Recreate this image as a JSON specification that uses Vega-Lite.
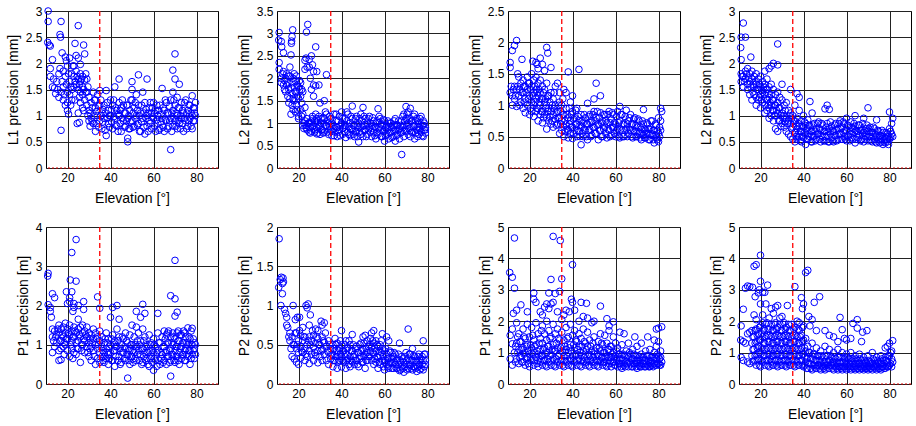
{
"$schema": "https://vega.github.io/schema/vega-lite/v6.json",
"padding": {"left": 5, "top": 4, "right": 0, "bottom": 0},
"columns": 4,
"bounds": "flush",
"spacing": {"row": 59, "column": 59},
"config": {
 "view": {"stroke": "#000", "strokeWidth": 1},
 "axis": {"domain": false, "ticks": false, "grid": true, "gridColor": "#222", "gridWidth": 1, "gridOpacity": 1, "labelOverlap": false, "labelFont": "Liberation Sans", "labelFontSize": 12, "labelColor": "#000", "titleFont": "Liberation Sans", "titleFontSize": 14, "titleFontWeight": "normal", "titleColor": "#000", "labelPadding": 4},
 "axisX": {"titlePadding": 8},
 "axisY": {"titlePadding": 5}
},
"concat": [
 {"width": 172, "height": 157, "layer": [
  {"data": {"name": "a"}, "mark": {"type": "point", "filled": false, "color": "#0000ff", "opacity": 1, "size": 44, "strokeWidth": 1},
   "encoding": {"x": {"field": "e", "type": "quantitative", "scale": {"domain": [10, 90], "nice": false, "zero": false}, "axis": {"values": [20, 40, 60, 80], "title": "Elevation [°]"}},
                "y": {"field": "v", "type": "quantitative", "scale": {"domain": [0, 3], "nice": false}, "axis": {"values": [0, 0.5, 1, 1.5, 2, 2.5, 3], "format": "~g", "title": "L1 precision [mm]"}}}},
  {"data": {"values": [{}]}, "mark": {"type": "rule", "color": "#ff0000", "strokeWidth": 1.3, "strokeDash": [5, 3]}, "encoding": {"x": {"datum": 35, "type": "quantitative", "axis": {"values": [20, 40, 60, 80], "title": "Elevation [°]"}}}},
  {"data": {"values": [{}]}, "mark": {"type": "rule", "color": "#dd0000", "strokeWidth": 1, "strokeDash": [2, 2]}, "encoding": {"y": {"datum": 0, "type": "quantitative", "axis": {"values": [0, 0.5, 1, 1.5, 2, 2.5, 3], "format": "~g", "title": "L1 precision [mm]"}}}}
 ]},
 {"width": 172, "height": 157, "layer": [
  {"data": {"name": "b"}, "mark": {"type": "point", "filled": false, "color": "#0000ff", "opacity": 1, "size": 44, "strokeWidth": 1},
   "encoding": {"x": {"field": "e", "type": "quantitative", "scale": {"domain": [10, 90], "nice": false, "zero": false}, "axis": {"values": [20, 40, 60, 80], "title": "Elevation [°]"}},
                "y": {"field": "v", "type": "quantitative", "scale": {"domain": [0, 3.5], "nice": false}, "axis": {"values": [0, 0.5, 1, 1.5, 2, 2.5, 3, 3.5], "format": "~g", "title": "L2 precision [mm]"}}}},
  {"data": {"values": [{}]}, "mark": {"type": "rule", "color": "#ff0000", "strokeWidth": 1.3, "strokeDash": [5, 3]}, "encoding": {"x": {"datum": 35, "type": "quantitative", "axis": {"values": [20, 40, 60, 80], "title": "Elevation [°]"}}}},
  {"data": {"values": [{}]}, "mark": {"type": "rule", "color": "#dd0000", "strokeWidth": 1, "strokeDash": [2, 2]}, "encoding": {"y": {"datum": 0, "type": "quantitative", "axis": {"values": [0, 0.5, 1, 1.5, 2, 2.5, 3, 3.5], "format": "~g", "title": "L2 precision [mm]"}}}}
 ]},
 {"width": 172, "height": 157, "layer": [
  {"data": {"name": "c"}, "mark": {"type": "point", "filled": false, "color": "#0000ff", "opacity": 1, "size": 44, "strokeWidth": 1},
   "encoding": {"x": {"field": "e", "type": "quantitative", "scale": {"domain": [10, 90], "nice": false, "zero": false}, "axis": {"values": [20, 40, 60, 80], "title": "Elevation [°]"}},
                "y": {"field": "v", "type": "quantitative", "scale": {"domain": [0, 2.5], "nice": false}, "axis": {"values": [0, 0.5, 1, 1.5, 2, 2.5], "format": "~g", "title": "L1 precision [mm]"}}}},
  {"data": {"values": [{}]}, "mark": {"type": "rule", "color": "#ff0000", "strokeWidth": 1.3, "strokeDash": [5, 3]}, "encoding": {"x": {"datum": 35, "type": "quantitative", "axis": {"values": [20, 40, 60, 80], "title": "Elevation [°]"}}}},
  {"data": {"values": [{}]}, "mark": {"type": "rule", "color": "#dd0000", "strokeWidth": 1, "strokeDash": [2, 2]}, "encoding": {"y": {"datum": 0, "type": "quantitative", "axis": {"values": [0, 0.5, 1, 1.5, 2, 2.5], "format": "~g", "title": "L1 precision [mm]"}}}}
 ]},
 {"width": 172, "height": 157, "layer": [
  {"data": {"name": "d"}, "mark": {"type": "point", "filled": false, "color": "#0000ff", "opacity": 1, "size": 44, "strokeWidth": 1},
   "encoding": {"x": {"field": "e", "type": "quantitative", "scale": {"domain": [10, 90], "nice": false, "zero": false}, "axis": {"values": [20, 40, 60, 80], "title": "Elevation [°]"}},
                "y": {"field": "v", "type": "quantitative", "scale": {"domain": [0, 3], "nice": false}, "axis": {"values": [0, 0.5, 1, 1.5, 2, 2.5, 3], "format": "~g", "title": "L2 precision [mm]"}}}},
  {"data": {"values": [{}]}, "mark": {"type": "rule", "color": "#ff0000", "strokeWidth": 1.3, "strokeDash": [5, 3]}, "encoding": {"x": {"datum": 35, "type": "quantitative", "axis": {"values": [20, 40, 60, 80], "title": "Elevation [°]"}}}},
  {"data": {"values": [{}]}, "mark": {"type": "rule", "color": "#dd0000", "strokeWidth": 1, "strokeDash": [2, 2]}, "encoding": {"y": {"datum": 0, "type": "quantitative", "axis": {"values": [0, 0.5, 1, 1.5, 2, 2.5, 3], "format": "~g", "title": "L2 precision [mm]"}}}}
 ]},
 {"width": 172, "height": 157, "layer": [
  {"data": {"name": "e"}, "mark": {"type": "point", "filled": false, "color": "#0000ff", "opacity": 1, "size": 44, "strokeWidth": 1},
   "encoding": {"x": {"field": "e", "type": "quantitative", "scale": {"domain": [10, 90], "nice": false, "zero": false}, "axis": {"values": [20, 40, 60, 80], "title": "Elevation [°]"}},
                "y": {"field": "v", "type": "quantitative", "scale": {"domain": [0, 4], "nice": false}, "axis": {"values": [0, 1, 2, 3, 4], "format": "~g", "title": "P1 precision [m]"}}}},
  {"data": {"values": [{}]}, "mark": {"type": "rule", "color": "#ff0000", "strokeWidth": 1.3, "strokeDash": [5, 3]}, "encoding": {"x": {"datum": 35, "type": "quantitative", "axis": {"values": [20, 40, 60, 80], "title": "Elevation [°]"}}}},
  {"data": {"values": [{}]}, "mark": {"type": "rule", "color": "#dd0000", "strokeWidth": 1, "strokeDash": [2, 2]}, "encoding": {"y": {"datum": 0, "type": "quantitative", "axis": {"values": [0, 1, 2, 3, 4], "format": "~g", "title": "P1 precision [m]"}}}}
 ]},
 {"width": 172, "height": 157, "layer": [
  {"data": {"name": "f"}, "mark": {"type": "point", "filled": false, "color": "#0000ff", "opacity": 1, "size": 44, "strokeWidth": 1},
   "encoding": {"x": {"field": "e", "type": "quantitative", "scale": {"domain": [10, 90], "nice": false, "zero": false}, "axis": {"values": [20, 40, 60, 80], "title": "Elevation [°]"}},
                "y": {"field": "v", "type": "quantitative", "scale": {"domain": [0, 2], "nice": false}, "axis": {"values": [0, 0.5, 1, 1.5, 2], "format": "~g", "title": "P2 precision [m]"}}}},
  {"data": {"values": [{}]}, "mark": {"type": "rule", "color": "#ff0000", "strokeWidth": 1.3, "strokeDash": [5, 3]}, "encoding": {"x": {"datum": 35, "type": "quantitative", "axis": {"values": [20, 40, 60, 80], "title": "Elevation [°]"}}}},
  {"data": {"values": [{}]}, "mark": {"type": "rule", "color": "#dd0000", "strokeWidth": 1, "strokeDash": [2, 2]}, "encoding": {"y": {"datum": 0, "type": "quantitative", "axis": {"values": [0, 0.5, 1, 1.5, 2], "format": "~g", "title": "P2 precision [m]"}}}}
 ]},
 {"width": 172, "height": 157, "layer": [
  {"data": {"name": "g"}, "mark": {"type": "point", "filled": false, "color": "#0000ff", "opacity": 1, "size": 44, "strokeWidth": 1},
   "encoding": {"x": {"field": "e", "type": "quantitative", "scale": {"domain": [10, 90], "nice": false, "zero": false}, "axis": {"values": [20, 40, 60, 80], "title": "Elevation [°]"}},
                "y": {"field": "v", "type": "quantitative", "scale": {"domain": [0, 5], "nice": false}, "axis": {"values": [0, 1, 2, 3, 4, 5], "format": "~g", "title": "P1 precision [m]"}}}},
  {"data": {"values": [{}]}, "mark": {"type": "rule", "color": "#ff0000", "strokeWidth": 1.3, "strokeDash": [5, 3]}, "encoding": {"x": {"datum": 35, "type": "quantitative", "axis": {"values": [20, 40, 60, 80], "title": "Elevation [°]"}}}},
  {"data": {"values": [{}]}, "mark": {"type": "rule", "color": "#dd0000", "strokeWidth": 1, "strokeDash": [2, 2]}, "encoding": {"y": {"datum": 0, "type": "quantitative", "axis": {"values": [0, 1, 2, 3, 4, 5], "format": "~g", "title": "P1 precision [m]"}}}}
 ]},
 {"width": 172, "height": 157, "layer": [
  {"data": {"name": "h"}, "mark": {"type": "point", "filled": false, "color": "#0000ff", "opacity": 1, "size": 44, "strokeWidth": 1},
   "encoding": {"x": {"field": "e", "type": "quantitative", "scale": {"domain": [10, 90], "nice": false, "zero": false}, "axis": {"values": [20, 40, 60, 80], "title": "Elevation [°]"}},
                "y": {"field": "v", "type": "quantitative", "scale": {"domain": [0, 5], "nice": false}, "axis": {"values": [0, 1, 2, 3, 4, 5], "format": "~g", "title": "P2 precision [m]"}}}},
  {"data": {"values": [{}]}, "mark": {"type": "rule", "color": "#ff0000", "strokeWidth": 1.3, "strokeDash": [5, 3]}, "encoding": {"x": {"datum": 35, "type": "quantitative", "axis": {"values": [20, 40, 60, 80], "title": "Elevation [°]"}}}},
  {"data": {"values": [{}]}, "mark": {"type": "rule", "color": "#dd0000", "strokeWidth": 1, "strokeDash": [2, 2]}, "encoding": {"y": {"datum": 0, "type": "quantitative", "axis": {"values": [0, 1, 2, 3, 4, 5], "format": "~g", "title": "P2 precision [m]"}}}}
 ]}
],
"datasets": {
"a": [{"e":11,"v":3.0},{"e":11,"v":2.8},{"e":10.8,"v":2.4},{"e":11.5,"v":2.35},{"e":12,"v":2.33},{"e":17,"v":2.8},{"e":16.5,"v":2.55},{"e":16.8,"v":2.5},{"e":17.5,"v":2.2},{"e":23.5,"v":2.38},{"e":25,"v":2.72},{"e":27.5,"v":2.35},{"e":19,"v":2.12},{"e":19.5,"v":2.05},{"e":13,"v":2.07},{"e":12,"v":1.9},{"e":17,"v":0.72},{"e":12,"v":1.75},{"e":13,"v":1.55},{"e":14,"v":1.53},{"e":15,"v":1.65},{"e":14.5,"v":1.42},{"e":16,"v":1.35},{"e":18,"v":1.3},{"e":17,"v":1.45},{"e":16,"v":1.8},{"e":18,"v":1.85},{"e":19,"v":1.75},{"e":20,"v":1.95},{"e":21,"v":2.1},{"e":22,"v":1.8},{"e":21,"v":1.65},{"e":22,"v":1.5},{"e":23,"v":1.75},{"e":20,"v":1.45},{"e":20,"v":1.25},{"e":20,"v":1.1},{"e":20.5,"v":1.03},{"e":19,"v":1.2},{"e":18,"v":1.55},{"e":21,"v":1.4},{"e":22,"v":1.3},{"e":23,"v":1.95},{"e":24,"v":2.15},{"e":25,"v":2.1},{"e":24,"v":1.85},{"e":25,"v":1.7},{"e":26,"v":1.8},{"e":26,"v":1.65},{"e":27,"v":1.55},{"e":27,"v":1.75},{"e":28,"v":1.68},{"e":28.5,"v":1.8},{"e":29,"v":1.7},{"e":28,"v":2.18},{"e":26,"v":1.98},{"e":25,"v":1.5},{"e":24,"v":1.6},{"e":23,"v":1.55},{"e":26,"v":1.45},{"e":27,"v":1.4},{"e":26,"v":1.25},{"e":25,"v":1.05},{"e":24.5,"v":0.85},{"e":25.5,"v":0.87},{"e":27,"v":1.15},{"e":28,"v":1.3},{"e":29,"v":1.45},{"e":30,"v":1.35},{"e":29,"v":1.2},{"e":30,"v":1.1},{"e":31,"v":1.25},{"e":32,"v":1.45},{"e":33,"v":1.3},{"e":34,"v":1.4},{"e":35,"v":1.48},{"e":33,"v":1.15},{"e":31,"v":0.95},{"e":30,"v":0.9},{"e":32,"v":0.85},{"e":33,"v":0.7},{"e":34,"v":1.0},{"e":35,"v":1.2},{"e":36,"v":1.05},{"e":35,"v":0.9},{"e":36,"v":0.75},{"e":37,"v":0.95},{"e":37,"v":1.2},{"e":38,"v":1.48},{"e":38,"v":0.62},{"e":39,"v":0.85},{"e":39,"v":1.1},{"e":40,"v":1.3},{"e":40,"v":1.0},{"e":41,"v":0.75},{"e":41,"v":1.2},{"e":42,"v":1.55},{"e":42,"v":0.95},{"e":43,"v":1.1},{"e":43,"v":0.8},{"e":44,"v":1.7},{"e":44,"v":1.25},{"e":44,"v":1.0},{"e":45,"v":0.7},{"e":45,"v":1.15},{"e":46,"v":0.9},{"e":46,"v":1.2},{"e":47,"v":1.05},{"e":47,"v":0.8},{"e":48,"v":0.5},{"e":48,"v":0.57},{"e":48,"v":1.2},{"e":48,"v":0.95},{"e":49,"v":1.1},{"e":49,"v":0.75},{"e":50,"v":1.65},{"e":50,"v":1.5},{"e":50,"v":1.3},{"e":50,"v":0.9},{"e":51,"v":1.15},{"e":51,"v":0.8},{"e":52,"v":1.0},{"e":52,"v":1.4},{"e":53,"v":1.78},{"e":53,"v":1.2},{"e":53,"v":0.85},{"e":54,"v":1.05},{"e":54,"v":0.7},{"e":55,"v":1.45},{"e":55,"v":0.95},{"e":56,"v":1.25},{"e":56,"v":0.65},{"e":57,"v":1.7},{"e":57,"v":1.0},{"e":57,"v":0.8},{"e":58,"v":1.15},{"e":58,"v":0.9},{"e":59,"v":1.05},{"e":59,"v":0.75},{"e":60,"v":1.25},{"e":60,"v":0.95},{"e":61,"v":0.7},{"e":61,"v":1.1},{"e":62,"v":1.0},{"e":62,"v":0.85},{"e":63,"v":1.2},{"e":63,"v":0.75},{"e":64,"v":1.52},{"e":64,"v":0.95},{"e":65,"v":1.1},{"e":65,"v":0.7},{"e":66,"v":0.9},{"e":66,"v":1.25},{"e":67,"v":0.8},{"e":67,"v":1.05},{"e":68,"v":0.35},{"e":68,"v":1.3},{"e":68,"v":0.95},{"e":69,"v":1.87},{"e":69,"v":1.45},{"e":69,"v":1.1},{"e":69,"v":0.8},{"e":70,"v":2.18},{"e":70,"v":1.7},{"e":70,"v":1.2},{"e":70,"v":0.9},{"e":71,"v":1.35},{"e":71,"v":1.0},{"e":71,"v":0.75},{"e":72,"v":1.6},{"e":72,"v":1.15},{"e":72,"v":0.85},{"e":73,"v":1.25},{"e":73,"v":0.95},{"e":74,"v":1.05},{"e":74,"v":0.7},{"e":75,"v":1.3},{"e":75,"v":0.9},{"e":76,"v":1.1},{"e":76,"v":0.8},{"e":77,"v":1.2},{"e":77,"v":0.95},{"e":78,"v":1.38},{"e":78,"v":1.0},{"e":78,"v":0.75},{"e":79,"v":1.15},{"e":79,"v":0.9},{"e":79,"v":1.05},
{"e":13.5,"v":1.7},{"e":15.5,"v":1.5},{"e":16.5,"v":1.9},{"e":17.5,"v":1.65},{"e":18.5,"v":1.4},{"e":19.5,"v":1.6},{"e":20.5,"v":1.8},{"e":21.5,"v":1.55},{"e":22.5,"v":1.95},{"e":23.5,"v":1.65},{"e":24.5,"v":1.75},{"e":25.5,"v":1.6},{"e":26.5,"v":1.7},{"e":27.5,"v":1.5},{"e":28.5,"v":1.45},{"e":29.5,"v":1.55},{"e":21.5,"v":1.2},{"e":23.5,"v":1.3},{"e":25.5,"v":1.35},{"e":27.5,"v":1.1},{"e":29.5,"v":1.0},
{"e":30.5,"v":1.05},{"e":30.5,"v":0.8},{"e":31.5,"v":1.15},{"e":31.5,"v":0.88},{"e":32.5,"v":1.0},{"e":32.5,"v":1.3},{"e":33.5,"v":0.85},{"e":33.5,"v":1.08},{"e":34.5,"v":1.18},{"e":34.5,"v":0.78},{"e":35.5,"v":1.0},{"e":35.5,"v":1.3},{"e":36.5,"v":0.88},{"e":36.5,"v":1.12},{"e":37.5,"v":1.05},{"e":37.5,"v":0.72},{"e":38.5,"v":0.95},{"e":38.5,"v":1.25},{"e":39.5,"v":1.0},{"e":39.5,"v":0.78},{"e":40.5,"v":1.12},{"e":40.5,"v":0.88},{"e":41.5,"v":0.98},{"e":41.5,"v":1.3},{"e":42.5,"v":0.82},{"e":42.5,"v":1.15},{"e":43.5,"v":1.02},{"e":43.5,"v":0.7},{"e":44.5,"v":1.1},{"e":44.5,"v":0.85},{"e":45.5,"v":0.95},{"e":45.5,"v":1.3},{"e":46.5,"v":1.05},{"e":46.5,"v":0.78},{"e":47.5,"v":1.2},{"e":47.5,"v":0.9},{"e":48.5,"v":1.0},{"e":48.5,"v":0.75},{"e":49.5,"v":0.88},{"e":49.5,"v":1.3},{"e":50.5,"v":1.05},{"e":50.5,"v":0.78},{"e":51.5,"v":0.95},{"e":51.5,"v":1.25},{"e":52.5,"v":1.1},{"e":52.5,"v":0.82},{"e":53.5,"v":1.0},{"e":53.5,"v":0.7},{"e":54.5,"v":0.88},{"e":54.5,"v":1.2},{"e":55.5,"v":1.05},{"e":55.5,"v":0.78},{"e":56.5,"v":0.95},{"e":56.5,"v":1.12},{"e":57.5,"v":1.05},{"e":57.5,"v":0.7},{"e":58.5,"v":0.85},{"e":58.5,"v":1.25},{"e":59.5,"v":0.98},{"e":59.5,"v":1.15},{"e":60.5,"v":0.8},{"e":60.5,"v":1.05},{"e":61.5,"v":0.92},{"e":61.5,"v":1.2},{"e":62.5,"v":1.1},{"e":62.5,"v":0.72},{"e":63.5,"v":0.88},{"e":63.5,"v":1.02},{"e":64.5,"v":1.15},{"e":64.5,"v":0.78},{"e":65.5,"v":0.92},{"e":65.5,"v":1.3},{"e":66.5,"v":1.05},{"e":66.5,"v":0.75},{"e":67.5,"v":0.9},{"e":67.5,"v":1.18},{"e":68.5,"v":1.05},{"e":68.5,"v":0.7},{"e":69.5,"v":0.95},{"e":69.5,"v":1.3},{"e":70.5,"v":1.05},{"e":70.5,"v":0.8},{"e":71.5,"v":1.15},{"e":71.5,"v":0.9},{"e":72.5,"v":1.0},{"e":72.5,"v":0.75},{"e":73.5,"v":1.1},{"e":73.5,"v":0.85},{"e":74.5,"v":0.95},{"e":74.5,"v":1.25},{"e":75.5,"v":1.05},{"e":75.5,"v":0.75},{"e":76.5,"v":0.9},{"e":76.5,"v":1.2},{"e":77.5,"v":1.05},{"e":77.5,"v":0.8},{"e":78.5,"v":1.15},{"e":78.5,"v":0.9},{"e":79.5,"v":1.0},{"e":79.5,"v":1.25}],
"b": [{"e":11,"v":3.02},{"e":10.8,"v":2.85},{"e":12,"v":2.82},{"e":12.2,"v":2.7},{"e":13,"v":2.57},{"e":11,"v":2.35},{"e":17.3,"v":3.08},{"e":17,"v":2.93},{"e":16.8,"v":2.83},{"e":16.7,"v":2.78},{"e":24.3,"v":3.2},{"e":23.7,"v":3.03},{"e":16.5,"v":2.52},{"e":28,"v":2.7},{"e":26,"v":2.5},{"e":25,"v":2.42},{"e":23.5,"v":2.45},{"e":23,"v":2.4},{"e":23,"v":2.2},{"e":33,"v":2.08},{"e":29.5,"v":1.85},{"e":27,"v":1.6},{"e":32,"v":1.5},{"e":30,"v":1.45},{"e":26.5,"v":2.3},{"e":25,"v":2.25},{"e":24,"v":2.25},{"e":27,"v":2.15},{"e":28.5,"v":2.15},{"e":25.5,"v":2.0},{"e":27,"v":1.85},{"e":28,"v":1.83},{"e":26,"v":1.75},{"e":11,"v":2.2},{"e":12,"v":2.0},{"e":12,"v":1.9},{"e":13,"v":2.15},{"e":13,"v":1.85},{"e":14,"v":2.0},{"e":14,"v":1.7},{"e":14.5,"v":2.1},{"e":15,"v":1.6},{"e":15,"v":1.9},{"e":15.5,"v":1.75},{"e":16,"v":2.25},{"e":16,"v":2.05},{"e":16,"v":1.55},{"e":16.5,"v":1.2},{"e":17,"v":1.9},{"e":17,"v":1.65},{"e":17,"v":1.4},{"e":17.5,"v":1.3},{"e":18,"v":2.1},{"e":18,"v":1.8},{"e":18,"v":1.5},{"e":18.5,"v":1.95},{"e":18.5,"v":1.25},{"e":19,"v":2.05},{"e":19,"v":1.7},{"e":19,"v":1.4},{"e":19.5,"v":1.85},{"e":20,"v":1.8},{"e":20,"v":1.55},{"e":20,"v":1.15},{"e":20,"v":1.1},{"e":20.5,"v":1.75},{"e":21,"v":1.9},{"e":21,"v":1.6},{"e":21,"v":1.3},{"e":21.5,"v":1.45},{"e":22,"v":1.7},{"e":22,"v":1.2},{"e":22,"v":0.95},{"e":22.5,"v":0.88},{"e":23,"v":1.05},{"e":23,"v":1.35},{"e":23.5,"v":0.95},{"e":24,"v":1.1},{"e":24,"v":0.85},{"e":25,"v":1.0},{"e":25,"v":0.8},{"e":25.5,"v":0.9},{"e":26,"v":1.05},{"e":26,"v":0.82},{"e":26.5,"v":1.15},{"e":27,"v":0.95},{"e":27.5,"v":0.8},{"e":28,"v":1.0},{"e":28,"v":1.2},{"e":28.5,"v":0.9},{"e":29,"v":0.78},{"e":29,"v":1.05},{"e":30,"v":0.95},{"e":30,"v":0.75},{"e":30.5,"v":1.1},{"e":31,"v":0.85},{"e":31.5,"v":1.0},{"e":32,"v":1.1},{"e":32,"v":0.8},{"e":33,"v":0.95},{"e":33,"v":1.2},{"e":34,"v":0.75},{"e":34,"v":1.0},{"e":35,"v":0.85},{"e":35,"v":1.1},{"e":35.5,"v":0.72},{"e":36,"v":0.95},{"e":36.5,"v":1.2},{"e":37,"v":0.8},{"e":37.5,"v":1.05},{"e":38,"v":0.9},{"e":38,"v":0.7},{"e":39,"v":1.15},{"e":39,"v":0.85},{"e":40,"v":1.0},{"e":40,"v":1.25},{"e":40.5,"v":0.75},{"e":41,"v":0.9},{"e":41.5,"v":1.1},{"e":42,"v":0.68},{"e":42,"v":0.95},{"e":43,"v":1.2},{"e":43,"v":0.8},{"e":44,"v":1.0},{"e":44,"v":0.72},{"e":45,"v":1.38},{"e":45,"v":1.1},{"e":45,"v":0.85},{"e":46,"v":0.95},{"e":46,"v":0.7},{"e":47,"v":1.15},{"e":47,"v":0.8},{"e":48,"v":0.58},{"e":48,"v":1.0},{"e":48,"v":0.9},{"e":49,"v":1.2},{"e":49,"v":0.75},{"e":50,"v":1.35},{"e":50,"v":0.95},{"e":50,"v":0.7},{"e":51,"v":1.1},{"e":51,"v":0.85},{"e":52,"v":0.75},{"e":52,"v":1.0},{"e":53,"v":0.9},{"e":53,"v":1.15},{"e":54,"v":0.7},{"e":54,"v":0.95},{"e":55,"v":1.05},{"e":55,"v":0.8},{"e":56,"v":0.9},{"e":56,"v":0.65},{"e":57,"v":1.32},{"e":57,"v":1.0},{"e":57,"v":0.75},{"e":58,"v":0.85},{"e":58,"v":1.1},{"e":59,"v":0.7},{"e":59,"v":0.95},{"e":60,"v":0.6},{"e":60,"v":0.85},{"e":60,"v":1.05},{"e":61,"v":0.75},{"e":61,"v":0.95},{"e":62,"v":0.65},{"e":62,"v":0.9},{"e":63,"v":0.8},{"e":63,"v":1.0},{"e":64,"v":0.7},{"e":64,"v":0.95},{"e":65,"v":0.6},{"e":65,"v":0.85},{"e":65,"v":1.1},{"e":66,"v":0.75},{"e":66,"v":0.95},{"e":67,"v":0.65},{"e":67,"v":0.88},{"e":68,"v":0.3},{"e":68,"v":0.8},{"e":68,"v":1.05},{"e":69,"v":0.7},{"e":69,"v":0.95},{"e":69,"v":1.2},{"e":70,"v":1.37},{"e":70,"v":0.85},{"e":70,"v":1.1},{"e":71,"v":0.75},{"e":71,"v":1.0},{"e":71,"v":1.25},{"e":72,"v":1.33},{"e":72,"v":0.9},{"e":72,"v":0.7},{"e":73,"v":1.05},{"e":73,"v":0.8},{"e":74,"v":1.2},{"e":74,"v":0.95},{"e":74,"v":0.65},{"e":75,"v":0.85},{"e":75,"v":1.1},{"e":76,"v":0.75},{"e":76,"v":1.0},{"e":76,"v":0.9},{"e":77,"v":1.15},{"e":77,"v":0.8},{"e":78,"v":0.95},{"e":78,"v":0.7},{"e":78,"v":1.05},{"e":79,"v":0.85},{"e":79,"v":0.9},
{"e":12.5,"v":2.1},{"e":13.5,"v":1.95},{"e":14.5,"v":1.85},{"e":15.5,"v":2.05},{"e":16.5,"v":1.8},{"e":17.5,"v":2.0},{"e":18.5,"v":1.7},{"e":19.5,"v":1.6},{"e":20.5,"v":1.95},{"e":21.5,"v":1.75},{"e":13.5,"v":1.75},{"e":15.5,"v":1.45},{"e":17.5,"v":1.55},{"e":19.5,"v":1.3},{"e":21.5,"v":1.15},{"e":22.5,"v":1.0},{"e":23.5,"v":0.9},{"e":24.5,"v":1.0},
{"e":25.5,"v":1.0},{"e":25.5,"v":0.78},{"e":26.5,"v":0.92},{"e":26.5,"v":1.1},{"e":27.5,"v":1.05},{"e":27.5,"v":0.85},{"e":28.5,"v":1.1},{"e":28.5,"v":0.76},{"e":29.5,"v":0.92},{"e":29.5,"v":1.15},{"e":30.5,"v":0.85},{"e":30.5,"v":1.0},{"e":31.5,"v":0.78},{"e":31.5,"v":1.12},{"e":32.5,"v":0.95},{"e":32.5,"v":1.25},{"e":33.5,"v":1.05},{"e":33.5,"v":0.8},{"e":34.5,"v":0.92},{"e":34.5,"v":1.15},{"e":35.5,"v":1.0},{"e":35.5,"v":0.82},{"e":36.5,"v":0.88},{"e":36.5,"v":0.72},{"e":37.5,"v":0.92},{"e":37.5,"v":1.2},{"e":38.5,"v":1.05},{"e":38.5,"v":0.8},{"e":39.5,"v":0.95},{"e":39.5,"v":0.72},{"e":40.5,"v":1.1},{"e":40.5,"v":0.88},{"e":41.5,"v":0.8},{"e":41.5,"v":0.95},{"e":42.5,"v":1.05},{"e":42.5,"v":1.25},{"e":43.5,"v":0.92},{"e":43.5,"v":0.75},{"e":44.5,"v":1.15},{"e":44.5,"v":0.88},{"e":45.5,"v":0.95},{"e":45.5,"v":0.75},{"e":46.5,"v":1.1},{"e":46.5,"v":0.82},{"e":47.5,"v":0.95},{"e":47.5,"v":0.7},{"e":48.5,"v":1.1},{"e":48.5,"v":0.8},{"e":49.5,"v":0.92},{"e":49.5,"v":1.05},{"e":50.5,"v":0.85},{"e":50.5,"v":1.15},{"e":51.5,"v":0.95},{"e":51.5,"v":0.7},{"e":52.5,"v":1.1},{"e":52.5,"v":0.85},{"e":53.5,"v":0.8},{"e":53.5,"v":1.0},{"e":54.5,"v":0.88},{"e":54.5,"v":1.12},{"e":55.5,"v":0.92},{"e":55.5,"v":0.72},{"e":56.5,"v":1.05},{"e":56.5,"v":0.8},{"e":57.5,"v":0.9},{"e":57.5,"v":1.15},{"e":58.5,"v":0.7},{"e":58.5,"v":0.98},{"e":59.5,"v":0.82},{"e":59.5,"v":1.08},{"e":60.5,"v":0.9},{"e":60.5,"v":0.72},{"e":61.5,"v":0.85},{"e":61.5,"v":1.05},{"e":62.5,"v":0.78},{"e":62.5,"v":1.0},{"e":63.5,"v":0.9},{"e":63.5,"v":0.68},{"e":64.5,"v":0.82},{"e":64.5,"v":1.05},{"e":65.5,"v":0.72},{"e":65.5,"v":0.95},{"e":66.5,"v":0.85},{"e":66.5,"v":1.05},{"e":67.5,"v":0.78},{"e":67.5,"v":0.95},{"e":68.5,"v":0.9},{"e":68.5,"v":1.15},{"e":69.5,"v":0.82},{"e":69.5,"v":1.05},{"e":70.5,"v":0.95},{"e":70.5,"v":1.2},{"e":71.5,"v":0.88},{"e":71.5,"v":1.1},{"e":72.5,"v":0.8},{"e":72.5,"v":1.05},{"e":73.5,"v":0.92},{"e":73.5,"v":1.15},{"e":74.5,"v":0.78},{"e":74.5,"v":1.05},{"e":75.5,"v":0.92},{"e":75.5,"v":0.7},{"e":76.5,"v":0.85},{"e":76.5,"v":1.1},{"e":77.5,"v":0.95},{"e":77.5,"v":0.72},{"e":78.5,"v":0.85},{"e":78.5,"v":1.0},{"e":79,"v":0.78}],
"c": [{"e":12,"v":1.87},{"e":13,"v":1.95},{"e":14,"v":2.03},{"e":11,"v":1.68},{"e":11,"v":1.6},{"e":16.5,"v":1.73},{"e":28,"v":1.92},{"e":28.5,"v":1.83},{"e":25,"v":1.75},{"e":21.5,"v":1.7},{"e":23,"v":1.68},{"e":30,"v":1.6},{"e":26,"v":1.65},{"e":23.5,"v":1.65},{"e":27,"v":1.55},{"e":24,"v":1.58},{"e":11,"v":1.2},{"e":12,"v":1.15},{"e":12,"v":1.0},{"e":13,"v":1.3},{"e":13,"v":1.1},{"e":14,"v":1.25},{"e":14,"v":0.98},{"e":14.5,"v":1.5},{"e":15,"v":1.45},{"e":15,"v":1.15},{"e":16,"v":1.35},{"e":16,"v":1.05},{"e":17,"v":1.4},{"e":17,"v":1.2},{"e":17,"v":0.95},{"e":18,"v":1.3},{"e":18,"v":1.1},{"e":18,"v":0.88},{"e":19,"v":1.45},{"e":19,"v":1.25},{"e":19,"v":1.0},{"e":20,"v":1.35},{"e":20,"v":1.15},{"e":20,"v":0.85},{"e":21,"v":1.5},{"e":21,"v":1.3},{"e":21,"v":1.05},{"e":21,"v":0.9},{"e":22,"v":1.4},{"e":22,"v":1.2},{"e":22,"v":1.0},{"e":22,"v":0.82},{"e":23,"v":1.45},{"e":23,"v":1.25},{"e":23,"v":1.1},{"e":23,"v":0.9},{"e":24,"v":1.35},{"e":24,"v":1.15},{"e":24,"v":0.95},{"e":24,"v":0.75},{"e":25,"v":1.4},{"e":25,"v":1.2},{"e":25,"v":1.0},{"e":25,"v":0.85},{"e":26,"v":1.3},{"e":26,"v":1.1},{"e":26,"v":0.9},{"e":26,"v":0.72},{"e":27,"v":1.25},{"e":27,"v":1.05},{"e":27,"v":0.85},{"e":28,"v":1.35},{"e":28,"v":1.0},{"e":28,"v":0.8},{"e":28,"v":0.62},{"e":29,"v":1.15},{"e":29,"v":0.95},{"e":29,"v":0.75},{"e":30,"v":1.2},{"e":30,"v":0.9},{"e":30,"v":0.7},{"e":31,"v":1.1},{"e":31,"v":0.85},{"e":31,"v":0.65},{"e":32,"v":1.3},{"e":32,"v":1.0},{"e":32,"v":0.78},{"e":33,"v":1.35},{"e":33,"v":0.9},{"e":33,"v":0.7},{"e":34,"v":1.2},{"e":34,"v":1.05},{"e":34,"v":0.8},{"e":34,"v":0.55},{"e":35,"v":1.0},{"e":35,"v":0.75},{"e":35,"v":0.6},{"e":36,"v":1.25},{"e":36,"v":0.85},{"e":36,"v":0.65},{"e":36,"v":0.5},{"e":37,"v":1.2},{"e":37,"v":0.95},{"e":37,"v":0.7},{"e":38,"v":1.53},{"e":38,"v":0.8},{"e":38,"v":0.6},{"e":38,"v":0.48},{"e":39,"v":1.05},{"e":39,"v":0.75},{"e":39,"v":0.55},{"e":40,"v":1.15},{"e":40,"v":0.9},{"e":40,"v":0.65},{"e":40,"v":0.47},{"e":41,"v":0.8},{"e":41,"v":0.6},{"e":42,"v":0.95},{"e":42,"v":0.7},{"e":42,"v":0.5},{"e":43,"v":1.57},{"e":43,"v":0.75},{"e":43,"v":0.58},{"e":44,"v":0.37},{"e":44,"v":0.85},{"e":44,"v":0.65},{"e":45,"v":0.72},{"e":45,"v":0.5},{"e":46,"v":0.8},{"e":46,"v":0.6},{"e":47,"v":1.03},{"e":47,"v":0.7},{"e":47,"v":0.45},{"e":48,"v":0.85},{"e":48,"v":0.62},{"e":49,"v":0.75},{"e":49,"v":0.52},{"e":50,"v":1.1},{"e":50,"v":0.9},{"e":50,"v":0.65},{"e":51,"v":1.35},{"e":51,"v":0.8},{"e":51,"v":0.55},{"e":52,"v":0.7},{"e":52,"v":0.45},{"e":53,"v":1.15},{"e":53,"v":0.88},{"e":53,"v":0.6},{"e":54,"v":0.75},{"e":54,"v":0.5},{"e":55,"v":0.85},{"e":55,"v":0.65},{"e":56,"v":0.72},{"e":56,"v":0.48},{"e":57,"v":0.9},{"e":57,"v":0.6},{"e":58,"v":0.78},{"e":58,"v":0.52},{"e":59,"v":0.85},{"e":59,"v":0.65},{"e":60,"v":0.7},{"e":60,"v":0.5},{"e":61,"v":0.9},{"e":61,"v":0.62},{"e":62,"v":0.98},{"e":62,"v":0.75},{"e":62,"v":0.48},{"e":63,"v":0.85},{"e":63,"v":0.6},{"e":64,"v":0.7},{"e":64,"v":0.5},{"e":65,"v":0.92},{"e":65,"v":0.62},{"e":66,"v":0.75},{"e":66,"v":0.55},{"e":67,"v":0.85},{"e":67,"v":0.6},{"e":68,"v":0.7},{"e":68,"v":0.48},{"e":69,"v":0.8},{"e":69,"v":0.58},{"e":70,"v":0.65},{"e":70,"v":0.5},{"e":71,"v":0.75},{"e":71,"v":0.55},{"e":72,"v":0.62},{"e":72,"v":0.45},{"e":73,"v":0.93},{"e":73,"v":0.7},{"e":73,"v":0.52},{"e":74,"v":0.6},{"e":74,"v":0.48},{"e":75,"v":0.7},{"e":75,"v":0.55},{"e":76,"v":0.62},{"e":76,"v":0.45},{"e":77,"v":0.75},{"e":77,"v":0.52},{"e":78,"v":0.4},{"e":78,"v":0.6},{"e":79,"v":0.68},{"e":79,"v":0.48},{"e":80,"v":0.8},{"e":80,"v":0.55},{"e":80,"v":0.42},{"e":81,"v":0.95},{"e":81,"v":0.75},{"e":81,"v":0.6},{"e":81.5,"v":0.9},
{"e":11.5,"v":1.3},{"e":12.5,"v":1.25},{"e":13.5,"v":1.15},{"e":14.5,"v":1.3},{"e":15.5,"v":1.25},{"e":15.5,"v":1.0},{"e":16.5,"v":1.2},{"e":17.5,"v":1.3},{"e":17.5,"v":1.05},{"e":18.5,"v":1.2},{"e":19.5,"v":1.35},{"e":19.5,"v":1.1},{"e":20.5,"v":1.25},{"e":20.5,"v":0.95},{"e":21.5,"v":1.15},{"e":22.5,"v":1.3},{"e":22.5,"v":1.05},{"e":23.5,"v":1.2},{"e":23.5,"v":0.95},{"e":24.5,"v":1.25},{"e":24.5,"v":1.05},{"e":25.5,"v":1.1},{"e":25.5,"v":0.9},{"e":26.5,"v":1.2},{"e":26.5,"v":0.8},{"e":27.5,"v":1.1},{"e":27.5,"v":0.95},{"e":28.5,"v":0.9},{"e":28.5,"v":1.15},{"e":29.5,"v":1.05},{"e":29.5,"v":0.82},{"e":30.5,"v":1.0},{"e":30.5,"v":0.75},{"e":31.5,"v":0.95},{"e":31.5,"v":1.2},{"e":32.5,"v":0.88},{"e":32.5,"v":0.68},{"e":33.5,"v":1.0},{"e":33.5,"v":0.8},{"e":34.5,"v":0.9},{"e":34.5,"v":0.7},{"e":35.5,"v":0.85},{"e":35.5,"v":1.1},
{"e":36.5,"v":0.75},{"e":36.5,"v":0.58},{"e":37.5,"v":0.85},{"e":37.5,"v":0.62},{"e":38.5,"v":0.7},{"e":38.5,"v":0.95},{"e":39.5,"v":0.65},{"e":39.5,"v":0.85},{"e":40.5,"v":0.78},{"e":40.5,"v":0.55},{"e":41.5,"v":0.7},{"e":41.5,"v":0.92},{"e":42.5,"v":0.6},{"e":42.5,"v":0.82},{"e":43.5,"v":0.68},{"e":43.5,"v":0.5},{"e":44.5,"v":0.75},{"e":44.5,"v":0.55},{"e":45.5,"v":0.62},{"e":45.5,"v":0.85},{"e":46.5,"v":0.7},{"e":46.5,"v":0.5},{"e":47.5,"v":0.6},{"e":47.5,"v":0.82},{"e":48.5,"v":0.72},{"e":48.5,"v":0.5},{"e":49.5,"v":0.65},{"e":49.5,"v":0.85},{"e":50.5,"v":0.75},{"e":50.5,"v":0.55},{"e":51.5,"v":0.68},{"e":51.5,"v":0.9},{"e":52.5,"v":0.6},{"e":52.5,"v":0.8},{"e":53.5,"v":0.72},{"e":53.5,"v":0.5},{"e":54.5,"v":0.62},{"e":54.5,"v":0.85},{"e":55.5,"v":0.75},{"e":55.5,"v":0.55},{"e":56.5,"v":0.62},{"e":56.5,"v":0.85},{"e":57.5,"v":0.72},{"e":57.5,"v":0.5},{"e":58.5,"v":0.65},{"e":58.5,"v":0.88},{"e":59.5,"v":0.72},{"e":59.5,"v":0.55},{"e":60.5,"v":0.6},{"e":60.5,"v":0.82},{"e":61.5,"v":0.72},{"e":61.5,"v":0.5},{"e":62.5,"v":0.62},{"e":62.5,"v":0.85},{"e":63.5,"v":0.7},{"e":63.5,"v":0.5},{"e":64.5,"v":0.6},{"e":64.5,"v":0.82},{"e":65.5,"v":0.7},{"e":65.5,"v":0.5},{"e":66.5,"v":0.62},{"e":66.5,"v":0.8},{"e":67.5,"v":0.7},{"e":67.5,"v":0.5},{"e":68.5,"v":0.6},{"e":68.5,"v":0.78},{"e":69.5,"v":0.68},{"e":69.5,"v":0.5},{"e":70.5,"v":0.58},{"e":70.5,"v":0.78},{"e":71.5,"v":0.65},{"e":71.5,"v":0.48},{"e":72.5,"v":0.55},{"e":72.5,"v":0.75},{"e":73.5,"v":0.62},{"e":73.5,"v":0.48},{"e":74.5,"v":0.55},{"e":74.5,"v":0.72},{"e":75.5,"v":0.62},{"e":75.5,"v":0.45},{"e":76.5,"v":0.55},{"e":76.5,"v":0.75},{"e":77.5,"v":0.6},{"e":77.5,"v":0.45},{"e":78.5,"v":0.52},{"e":78.5,"v":0.7},{"e":79.5,"v":0.6},{"e":79.5,"v":0.45},{"e":80.5,"v":0.65},{"e":80.5,"v":0.5}],
"d": [{"e":12,"v":2.77},{"e":11,"v":2.5},{"e":13,"v":2.5},{"e":10.8,"v":2.3},{"e":11,"v":2.07},{"e":15.5,"v":2.12},{"e":28,"v":2.37},{"e":26,"v":2.0},{"e":28,"v":1.97},{"e":30,"v":1.6},{"e":25,"v":1.95},{"e":24,"v":1.9},{"e":22,"v":1.85},{"e":11,"v":1.8},{"e":11,"v":1.65},{"e":12,"v":1.75},{"e":12,"v":1.55},{"e":13,"v":1.85},{"e":13,"v":1.7},{"e":14,"v":1.9},{"e":14,"v":1.6},{"e":14,"v":1.5},{"e":15,"v":1.8},{"e":15,"v":1.65},{"e":15,"v":1.4},{"e":16,"v":1.85},{"e":16,"v":1.7},{"e":16,"v":1.3},{"e":17,"v":1.75},{"e":17,"v":1.55},{"e":17,"v":1.4},{"e":18,"v":1.8},{"e":18,"v":1.6},{"e":18,"v":1.35},{"e":18,"v":1.2},{"e":19,"v":1.7},{"e":19,"v":1.5},{"e":19,"v":1.3},{"e":20,"v":1.75},{"e":20,"v":1.55},{"e":20,"v":1.4},{"e":20,"v":1.15},{"e":21,"v":1.65},{"e":21,"v":1.45},{"e":21,"v":1.25},{"e":22,"v":1.6},{"e":22,"v":1.4},{"e":22,"v":1.2},{"e":22,"v":1.05},{"e":23,"v":1.7},{"e":23,"v":1.5},{"e":23,"v":1.3},{"e":23,"v":1.1},{"e":24,"v":1.55},{"e":24,"v":1.35},{"e":24,"v":1.15},{"e":24,"v":0.95},{"e":25,"v":1.6},{"e":25,"v":1.4},{"e":25,"v":1.2},{"e":25,"v":1.0},{"e":26,"v":1.5},{"e":26,"v":1.3},{"e":26,"v":1.1},{"e":26,"v":0.9},{"e":27,"v":1.4},{"e":27,"v":1.2},{"e":27,"v":1.0},{"e":27,"v":0.75},{"e":28,"v":1.45},{"e":28,"v":1.25},{"e":28,"v":1.05},{"e":28,"v":0.7},{"e":29,"v":1.35},{"e":29,"v":1.15},{"e":29,"v":0.9},{"e":30,"v":1.3},{"e":30,"v":1.05},{"e":30,"v":0.85},{"e":31,"v":1.2},{"e":31,"v":1.0},{"e":31,"v":0.78},{"e":32,"v":1.25},{"e":32,"v":0.95},{"e":32,"v":0.7},{"e":33,"v":1.1},{"e":33,"v":0.9},{"e":33,"v":0.65},{"e":34,"v":1.5},{"e":34,"v":1.05},{"e":34,"v":0.85},{"e":34,"v":0.6},{"e":35,"v":1.0},{"e":35,"v":0.78},{"e":35,"v":0.55},{"e":36,"v":1.2},{"e":36,"v":0.9},{"e":36,"v":0.68},{"e":36,"v":0.5},{"e":37,"v":1.42},{"e":37,"v":0.95},{"e":37,"v":0.75},{"e":37,"v":0.55},{"e":38,"v":1.35},{"e":38,"v":1.1},{"e":38,"v":0.8},{"e":38,"v":0.6},{"e":39,"v":0.9},{"e":39,"v":0.7},{"e":39,"v":0.5},{"e":40,"v":1.0},{"e":40,"v":0.78},{"e":40,"v":0.58},{"e":41,"v":0.85},{"e":41,"v":0.65},{"e":41,"v":0.45},{"e":42,"v":0.92},{"e":42,"v":0.72},{"e":42,"v":0.55},{"e":43,"v":1.27},{"e":43,"v":0.8},{"e":43,"v":0.6},{"e":44,"v":1.05},{"e":44,"v":0.7},{"e":44,"v":0.5},{"e":45,"v":0.85},{"e":45,"v":0.62},{"e":46,"v":0.75},{"e":46,"v":0.55},{"e":47,"v":0.88},{"e":47,"v":0.65},{"e":48,"v":0.72},{"e":48,"v":0.5},{"e":49,"v":0.82},{"e":49,"v":0.6},{"e":50,"v":1.13},{"e":50,"v":0.7},{"e":50,"v":0.52},{"e":51,"v":1.2},{"e":51,"v":0.85},{"e":51,"v":0.62},{"e":52,"v":1.12},{"e":52,"v":0.75},{"e":52,"v":0.5},{"e":53,"v":0.8},{"e":53,"v":0.58},{"e":54,"v":0.7},{"e":54,"v":0.5},{"e":55,"v":0.85},{"e":55,"v":0.62},{"e":56,"v":0.75},{"e":56,"v":0.55},{"e":57,"v":0.9},{"e":57,"v":0.65},{"e":58,"v":0.78},{"e":58,"v":0.55},{"e":59,"v":0.85},{"e":59,"v":0.6},{"e":60,"v":0.95},{"e":60,"v":0.72},{"e":60,"v":0.52},{"e":61,"v":0.8},{"e":61,"v":0.6},{"e":62,"v":0.88},{"e":62,"v":0.65},{"e":63,"v":0.75},{"e":63,"v":0.55},{"e":64,"v":1.0},{"e":64,"v":0.8},{"e":64,"v":0.48},{"e":65,"v":0.7},{"e":65,"v":0.58},{"e":66,"v":0.82},{"e":66,"v":0.62},{"e":67,"v":0.72},{"e":67,"v":0.55},{"e":68,"v":0.95},{"e":68,"v":0.68},{"e":68,"v":0.5},{"e":69,"v":0.75},{"e":69,"v":0.6},{"e":70,"v":1.15},{"e":70,"v":0.7},{"e":70,"v":0.52},{"e":71,"v":0.78},{"e":71,"v":0.6},{"e":72,"v":0.68},{"e":72,"v":0.5},{"e":73,"v":0.75},{"e":73,"v":0.55},{"e":74,"v":0.92},{"e":74,"v":0.62},{"e":74,"v":0.48},{"e":75,"v":0.7},{"e":75,"v":0.55},{"e":76,"v":0.62},{"e":76,"v":0.5},{"e":77,"v":0.68},{"e":77,"v":0.45},{"e":78,"v":0.58},{"e":78,"v":0.48},{"e":79,"v":0.65},{"e":79,"v":0.5},{"e":80,"v":1.07},{"e":80,"v":0.75},{"e":80,"v":0.55},{"e":81,"v":0.85},{"e":81,"v":0.65},{"e":81.5,"v":0.95},{"e":81.5,"v":0.6},
{"e":11.5,"v":1.75},{"e":12.5,"v":1.65},{"e":13.5,"v":1.8},{"e":14.5,"v":1.72},{"e":15.5,"v":1.55},{"e":16.5,"v":1.6},{"e":17.5,"v":1.65},{"e":18.5,"v":1.5},{"e":19.5,"v":1.6},{"e":20.5,"v":1.48},{"e":21.5,"v":1.55},{"e":22.5,"v":1.32},{"e":23.5,"v":1.42},{"e":24.5,"v":1.25},{"e":25.5,"v":1.3},{"e":26.5,"v":1.2},{"e":27.5,"v":1.1},{"e":28.5,"v":1.15},{"e":29.5,"v":1.0},{"e":30.5,"v":0.95},{"e":31.5,"v":1.1},{"e":32.5,"v":0.85},{"e":33.5,"v":1.0},{"e":34.5,"v":0.75},{"e":35.5,"v":0.9},{"e":16.5,"v":1.45},{"e":19.5,"v":1.35},{"e":22.5,"v":1.5},{"e":25.5,"v":1.1},{"e":28.5,"v":0.9},{"e":31.5,"v":0.88},{"e":34.5,"v":0.95},{"e":20.5,"v":1.3},{"e":23.5,"v":1.2},{"e":26.5,"v":1.0},{"e":29.5,"v":0.8},
{"e":36.5,"v":0.8},{"e":36.5,"v":0.6},{"e":37.5,"v":0.65},{"e":37.5,"v":0.85},{"e":38.5,"v":0.7},{"e":38.5,"v":0.52},{"e":39.5,"v":0.8},{"e":39.5,"v":0.6},{"e":40.5,"v":0.68},{"e":40.5,"v":0.88},{"e":41.5,"v":0.75},{"e":41.5,"v":0.55},{"e":42.5,"v":0.65},{"e":42.5,"v":0.82},{"e":43.5,"v":0.7},{"e":43.5,"v":0.5},{"e":44.5,"v":0.82},{"e":44.5,"v":0.6},{"e":45.5,"v":0.7},{"e":45.5,"v":0.52},{"e":46.5,"v":0.65},{"e":46.5,"v":0.85},{"e":47.5,"v":0.75},{"e":47.5,"v":0.55},{"e":48.5,"v":0.62},{"e":48.5,"v":0.85},{"e":49.5,"v":0.7},{"e":49.5,"v":0.52},{"e":50.5,"v":0.78},{"e":50.5,"v":0.6},{"e":51.5,"v":0.7},{"e":51.5,"v":0.5},{"e":52.5,"v":0.65},{"e":52.5,"v":0.88},{"e":53.5,"v":0.72},{"e":53.5,"v":0.52},{"e":54.5,"v":0.62},{"e":54.5,"v":0.82},{"e":55.5,"v":0.72},{"e":55.5,"v":0.52},{"e":56.5,"v":0.65},{"e":56.5,"v":0.85},{"e":57.5,"v":0.75},{"e":57.5,"v":0.55},{"e":58.5,"v":0.68},{"e":58.5,"v":0.88},{"e":59.5,"v":0.72},{"e":59.5,"v":0.55},{"e":60.5,"v":0.82},{"e":60.5,"v":0.62},{"e":61.5,"v":0.7},{"e":61.5,"v":0.52},{"e":62.5,"v":0.78},{"e":62.5,"v":0.58},{"e":63.5,"v":0.68},{"e":63.5,"v":0.85},{"e":64.5,"v":0.72},{"e":64.5,"v":0.55},{"e":65.5,"v":0.65},{"e":65.5,"v":0.82},{"e":66.5,"v":0.72},{"e":66.5,"v":0.52},{"e":67.5,"v":0.65},{"e":67.5,"v":0.85},{"e":68.5,"v":0.72},{"e":68.5,"v":0.55},{"e":69.5,"v":0.65},{"e":69.5,"v":0.82},{"e":70.5,"v":0.6},{"e":70.5,"v":0.75},{"e":71.5,"v":0.68},{"e":71.5,"v":0.52},{"e":72.5,"v":0.6},{"e":72.5,"v":0.78},{"e":73.5,"v":0.65},{"e":73.5,"v":0.5},{"e":74.5,"v":0.58},{"e":74.5,"v":0.72},{"e":75.5,"v":0.62},{"e":75.5,"v":0.48},{"e":76.5,"v":0.55},{"e":76.5,"v":0.72},{"e":77.5,"v":0.6},{"e":77.5,"v":0.5},{"e":78.5,"v":0.55},{"e":78.5,"v":0.68},{"e":79.5,"v":0.6},{"e":79.5,"v":0.45},{"e":80.5,"v":0.7},{"e":80.5,"v":0.58}],
"e": [{"e":24,"v":3.68},{"e":22,"v":3.35},{"e":11,"v":2.82},{"e":10.8,"v":2.75},{"e":13,"v":2.3},{"e":14,"v":2.2},{"e":11,"v":2.02},{"e":12,"v":1.95},{"e":12.5,"v":1.7},{"e":21.3,"v":2.65},{"e":24,"v":2.62},{"e":22,"v":2.35},{"e":19.5,"v":2.35},{"e":21,"v":2.2},{"e":27.5,"v":2.1},{"e":27.5,"v":1.9},{"e":25,"v":2.0},{"e":20,"v":2.05},{"e":34,"v":2.22},{"e":35,"v":1.93},{"e":16,"v":0.6},{"e":17,"v":0.62},{"e":13,"v":0.8},{"e":12,"v":1.85},{"e":21,"v":2.1},{"e":23,"v":2.05},{"e":23,"v":1.95},{"e":22.5,"v":1.85},{"e":13,"v":1.4},{"e":13,"v":1.2},{"e":14,"v":0.95},{"e":14,"v":1.35},{"e":15,"v":1.25},{"e":15,"v":1.05},{"e":16,"v":1.5},{"e":16,"v":1.3},{"e":16,"v":0.85},{"e":17,"v":1.4},{"e":17,"v":1.1},{"e":17,"v":0.9},{"e":18,"v":1.45},{"e":18,"v":1.2},{"e":18,"v":0.95},{"e":19,"v":1.55},{"e":19,"v":1.3},{"e":19,"v":1.0},{"e":20,"v":1.4},{"e":20,"v":1.15},{"e":20,"v":0.85},{"e":21,"v":1.5},{"e":21,"v":1.25},{"e":21,"v":0.7},{"e":22,"v":1.35},{"e":22,"v":1.1},{"e":22,"v":0.9},{"e":23,"v":1.45},{"e":23,"v":1.2},{"e":23,"v":0.8},{"e":24,"v":1.3},{"e":24,"v":1.05},{"e":24,"v":0.75},{"e":25,"v":1.65},{"e":25,"v":1.4},{"e":25,"v":1.1},{"e":25,"v":0.9},{"e":26,"v":1.45},{"e":26,"v":1.2},{"e":26,"v":0.55},{"e":27,"v":1.5},{"e":27,"v":1.3},{"e":27,"v":1.0},{"e":28,"v":1.35},{"e":28,"v":1.1},{"e":28,"v":0.8},{"e":29,"v":1.45},{"e":29,"v":1.2},{"e":29,"v":0.95},{"e":30,"v":1.3},{"e":30,"v":1.05},{"e":30,"v":0.7},{"e":31,"v":1.25},{"e":31,"v":0.95},{"e":31,"v":0.6},{"e":32,"v":1.4},{"e":32,"v":1.15},{"e":32,"v":0.85},{"e":33,"v":1.3},{"e":33,"v":1.0},{"e":33,"v":0.5},{"e":34,"v":1.2},{"e":34,"v":0.9},{"e":34,"v":0.65},{"e":35,"v":1.35},{"e":35,"v":1.1},{"e":35,"v":0.8},{"e":35,"v":0.55},{"e":36,"v":1.2},{"e":36,"v":0.95},{"e":36,"v":0.7},{"e":37,"v":1.05},{"e":37,"v":0.8},{"e":37,"v":0.55},{"e":38,"v":1.3},{"e":38,"v":0.9},{"e":38,"v":0.65},{"e":39,"v":1.15},{"e":39,"v":0.75},{"e":39,"v":0.5},{"e":40,"v":1.7},{"e":40,"v":1.0},{"e":40,"v":0.8},{"e":41,"v":1.95},{"e":41,"v":1.25},{"e":41,"v":0.6},{"e":42,"v":1.1},{"e":42,"v":0.85},{"e":42,"v":0.45},{"e":43,"v":2.0},{"e":43,"v":1.4},{"e":43,"v":0.95},{"e":44,"v":1.65},{"e":44,"v":1.2},{"e":44,"v":0.7},{"e":45,"v":1.0},{"e":45,"v":0.55},{"e":46,"v":1.15},{"e":46,"v":0.8},{"e":47,"v":1.3},{"e":47,"v":0.9},{"e":47,"v":0.6},{"e":48,"v":0.15},{"e":48,"v":1.05},{"e":48,"v":0.75},{"e":49,"v":1.25},{"e":49,"v":0.85},{"e":49,"v":0.5},{"e":50,"v":1.5},{"e":50,"v":1.0},{"e":50,"v":0.7},{"e":51,"v":1.2},{"e":51,"v":0.8},{"e":52,"v":1.85},{"e":52,"v":1.45},{"e":52,"v":0.95},{"e":52,"v":0.6},{"e":53,"v":1.3},{"e":53,"v":0.85},{"e":54,"v":1.7},{"e":54,"v":1.1},{"e":54,"v":0.75},{"e":55,"v":2.03},{"e":55,"v":1.4},{"e":55,"v":0.9},{"e":55,"v":0.55},{"e":56,"v":1.8},{"e":56,"v":1.2},{"e":56,"v":0.8},{"e":57,"v":1.0},{"e":57,"v":0.65},{"e":58,"v":1.25},{"e":58,"v":0.85},{"e":58,"v":0.45},{"e":59,"v":1.05},{"e":59,"v":0.7},{"e":60,"v":1.15},{"e":60,"v":0.35},{"e":60,"v":0.8},{"e":61,"v":0.95},{"e":61,"v":0.6},{"e":62,"v":1.8},{"e":62,"v":1.3},{"e":62,"v":0.85},{"e":63,"v":1.05},{"e":63,"v":0.5},{"e":64,"v":1.2},{"e":64,"v":0.75},{"e":65,"v":1.35},{"e":65,"v":0.95},{"e":65,"v":0.6},{"e":66,"v":1.25},{"e":66,"v":0.85},{"e":66,"v":0.5},{"e":67,"v":1.35},{"e":67,"v":1.05},{"e":67,"v":0.7},{"e":68,"v":2.25},{"e":68,"v":0.2},{"e":68,"v":1.2},{"e":68,"v":0.9},{"e":68,"v":0.6},{"e":69,"v":1.3},{"e":69,"v":1.0},{"e":69,"v":0.75},{"e":70,"v":3.15},{"e":70,"v":2.17},{"e":70,"v":1.73},{"e":70,"v":1.15},{"e":70,"v":0.85},{"e":70,"v":0.55},{"e":71,"v":1.83},{"e":71,"v":1.3},{"e":71,"v":0.95},{"e":71,"v":0.7},{"e":72,"v":1.1},{"e":72,"v":0.8},{"e":72,"v":0.5},{"e":73,"v":1.25},{"e":73,"v":0.95},{"e":73,"v":0.65},{"e":74,"v":1.35},{"e":74,"v":1.05},{"e":74,"v":0.75},{"e":75,"v":1.2},{"e":75,"v":0.9},{"e":75,"v":0.6},{"e":76,"v":1.43},{"e":76,"v":1.0},{"e":76,"v":0.7},{"e":77,"v":1.15},{"e":77,"v":0.85},{"e":77,"v":0.5},{"e":78,"v":1.42},{"e":78,"v":1.0},{"e":78,"v":0.75},{"e":79,"v":0.9},{"e":79,"v":0.65},{"e":79,"v":1.05},
{"e":13.5,"v":1.1},{"e":14.5,"v":1.2},{"e":15.5,"v":1.4},{"e":16.5,"v":1.1},{"e":17.5,"v":1.25},{"e":18.5,"v":1.05},{"e":19.5,"v":1.15},{"e":20.5,"v":1.3},{"e":21.5,"v":1.0},{"e":22.5,"v":1.2},{"e":23.5,"v":1.35},{"e":24.5,"v":0.9},{"e":25.5,"v":1.25},{"e":26.5,"v":1.0},{"e":27.5,"v":1.15},{"e":28.5,"v":1.25},{"e":29.5,"v":0.8},{"e":30.5,"v":1.15},{"e":31.5,"v":1.05},{"e":32.5,"v":0.7},{"e":33.5,"v":1.15},{"e":34.5,"v":1.0},{"e":18.5,"v":0.75},{"e":22.5,"v":0.65},{"e":26.5,"v":0.85},{"e":30.5,"v":0.9},
{"e":36.5,"v":0.85},{"e":36.5,"v":0.6},{"e":37.5,"v":1.15},{"e":37.5,"v":0.7},{"e":38.5,"v":0.8},{"e":38.5,"v":1.05},{"e":39.5,"v":0.95},{"e":39.5,"v":0.65},{"e":40.5,"v":0.6},{"e":40.5,"v":1.15},{"e":41.5,"v":0.85},{"e":41.5,"v":1.05},{"e":42.5,"v":0.7},{"e":42.5,"v":0.95},{"e":43.5,"v":0.6},{"e":43.5,"v":1.1},{"e":44.5,"v":0.9},{"e":44.5,"v":0.5},{"e":45.5,"v":0.8},{"e":45.5,"v":1.2},{"e":46.5,"v":0.65},{"e":46.5,"v":0.95},{"e":47.5,"v":0.75},{"e":47.5,"v":1.1},{"e":48.5,"v":0.6},{"e":48.5,"v":0.9},{"e":49.5,"v":1.0},{"e":49.5,"v":0.7},{"e":50.5,"v":0.85},{"e":50.5,"v":0.55},{"e":51.5,"v":1.0},{"e":51.5,"v":0.65},{"e":52.5,"v":0.75},{"e":52.5,"v":1.1},{"e":53.5,"v":0.6},{"e":53.5,"v":1.0},{"e":54.5,"v":0.9},{"e":54.5,"v":0.5},{"e":55.5,"v":0.7},{"e":55.5,"v":1.1},{"e":56.5,"v":0.6},{"e":56.5,"v":0.95},{"e":57.5,"v":0.8},{"e":57.5,"v":0.5},{"e":58.5,"v":0.65},{"e":58.5,"v":1.0},{"e":59.5,"v":0.85},{"e":59.5,"v":0.55},{"e":60.5,"v":0.65},{"e":60.5,"v":1.0},{"e":61.5,"v":0.8},{"e":61.5,"v":0.45},{"e":62.5,"v":0.6},{"e":62.5,"v":1.05},{"e":63.5,"v":0.8},{"e":63.5,"v":0.65},{"e":64.5,"v":0.95},{"e":64.5,"v":0.55},{"e":65.5,"v":0.8},{"e":65.5,"v":1.15},{"e":66.5,"v":0.7},{"e":66.5,"v":1.05},{"e":67.5,"v":0.85},{"e":67.5,"v":0.55},{"e":68.5,"v":1.05},{"e":68.5,"v":0.75},{"e":69.5,"v":0.6},{"e":69.5,"v":1.2},{"e":70.5,"v":0.95},{"e":70.5,"v":0.7},{"e":71.5,"v":1.1},{"e":71.5,"v":0.6},{"e":72.5,"v":0.9},{"e":72.5,"v":1.25},{"e":73.5,"v":0.75},{"e":73.5,"v":1.05},{"e":74.5,"v":0.85},{"e":74.5,"v":0.6},{"e":75.5,"v":1.05},{"e":75.5,"v":0.75},{"e":76.5,"v":0.85},{"e":76.5,"v":1.2},{"e":77.5,"v":1.0},{"e":77.5,"v":0.65},{"e":78.5,"v":0.85},{"e":78.5,"v":1.15},{"e":79.5,"v":0.75},{"e":79.5,"v":1.0},{"e":66.5,"v":1.3},{"e":71.5,"v":1.35},{"e":74.5,"v":1.3},{"e":77.5,"v":1.35}],
"f": [{"e":11,"v":1.85},{"e":10.8,"v":1.23},{"e":11.5,"v":1.33},{"e":12,"v":1.36},{"e":12.8,"v":1.35},{"e":13,"v":1.3},{"e":12.5,"v":1.28},{"e":11.8,"v":1.0},{"e":12.5,"v":1.15},{"e":13.5,"v":0.95},{"e":14,"v":0.9},{"e":14.5,"v":0.85},{"e":15,"v":0.72},{"e":14.5,"v":0.75},{"e":17.5,"v":1.0},{"e":23.5,"v":1.0},{"e":24.5,"v":1.02},{"e":24,"v":0.97},{"e":25.5,"v":0.88},{"e":30.5,"v":0.8},{"e":32,"v":0.78},{"e":22,"v":0.72},{"e":19.5,"v":0.85},{"e":20.5,"v":0.85},{"e":18.5,"v":0.82},{"e":16,"v":0.65},{"e":25,"v":0.75},{"e":28,"v":0.7},{"e":31,"v":0.75},{"e":29,"v":0.68},{"e":16,"v":0.55},{"e":16.5,"v":0.45},{"e":17,"v":0.6},{"e":17,"v":0.35},{"e":18,"v":0.5},{"e":18,"v":0.32},{"e":19,"v":0.65},{"e":19,"v":0.45},{"e":19,"v":0.28},{"e":20,"v":0.55},{"e":20,"v":0.4},{"e":20,"v":0.25},{"e":21,"v":0.62},{"e":21,"v":0.48},{"e":21,"v":0.33},{"e":22,"v":0.55},{"e":22,"v":0.4},{"e":23,"v":0.6},{"e":23,"v":0.45},{"e":23,"v":0.3},{"e":24,"v":0.5},{"e":24,"v":0.35},{"e":25,"v":0.6},{"e":25,"v":0.42},{"e":25,"v":0.26},{"e":26,"v":0.55},{"e":26,"v":0.38},{"e":27,"v":0.62},{"e":27,"v":0.47},{"e":27,"v":0.3},{"e":28,"v":0.52},{"e":28,"v":0.36},{"e":29,"v":0.58},{"e":29,"v":0.42},{"e":29,"v":0.27},{"e":30,"v":0.5},{"e":30,"v":0.35},{"e":31,"v":0.6},{"e":31,"v":0.44},{"e":31,"v":0.3},{"e":32,"v":0.53},{"e":32,"v":0.38},{"e":33,"v":0.48},{"e":33,"v":0.3},{"e":34,"v":0.55},{"e":34,"v":0.4},{"e":34,"v":0.25},{"e":35,"v":0.45},{"e":35,"v":0.32},{"e":36,"v":0.5},{"e":36,"v":0.36},{"e":36,"v":0.22},{"e":37,"v":0.58},{"e":37,"v":0.42},{"e":37,"v":0.3},{"e":38,"v":0.52},{"e":38,"v":0.35},{"e":38,"v":0.2},{"e":39,"v":0.45},{"e":39,"v":0.3},{"e":40,"v":0.68},{"e":40,"v":0.5},{"e":40,"v":0.35},{"e":40,"v":0.22},{"e":41,"v":0.42},{"e":41,"v":0.28},{"e":42,"v":0.55},{"e":42,"v":0.38},{"e":42,"v":0.2},{"e":43,"v":0.46},{"e":43,"v":0.32},{"e":44,"v":0.5},{"e":44,"v":0.35},{"e":44,"v":0.22},{"e":45,"v":0.63},{"e":45,"v":0.42},{"e":45,"v":0.28},{"e":46,"v":0.38},{"e":46,"v":0.25},{"e":47,"v":0.48},{"e":47,"v":0.3},{"e":48,"v":0.4},{"e":48,"v":0.22},{"e":49,"v":0.52},{"e":49,"v":0.35},{"e":50,"v":0.6},{"e":50,"v":0.44},{"e":50,"v":0.28},{"e":51,"v":0.62},{"e":51,"v":0.38},{"e":51,"v":0.2},{"e":52,"v":0.55},{"e":52,"v":0.4},{"e":52,"v":0.3},{"e":53,"v":0.5},{"e":53,"v":0.35},{"e":54,"v":0.65},{"e":54,"v":0.47},{"e":54,"v":0.3},{"e":55,"v":0.68},{"e":55,"v":0.52},{"e":55,"v":0.38},{"e":55,"v":0.25},{"e":56,"v":0.55},{"e":56,"v":0.42},{"e":56,"v":0.28},{"e":57,"v":0.48},{"e":57,"v":0.34},{"e":57,"v":0.2},{"e":58,"v":0.5},{"e":58,"v":0.36},{"e":58,"v":0.25},{"e":59,"v":0.64},{"e":59,"v":0.45},{"e":59,"v":0.3},{"e":60,"v":0.42},{"e":60,"v":0.28},{"e":60,"v":0.18},{"e":61,"v":0.6},{"e":61,"v":0.38},{"e":61,"v":0.25},{"e":62,"v":0.55},{"e":62,"v":0.33},{"e":62,"v":0.2},{"e":63,"v":0.4},{"e":63,"v":0.27},{"e":64,"v":0.35},{"e":64,"v":0.2},{"e":65,"v":0.38},{"e":65,"v":0.25},{"e":66,"v":0.32},{"e":66,"v":0.2},{"e":67,"v":0.52},{"e":67,"v":0.3},{"e":67,"v":0.17},{"e":68,"v":0.35},{"e":68,"v":0.22},{"e":69,"v":0.28},{"e":69,"v":0.15},{"e":70,"v":0.4},{"e":70,"v":0.25},{"e":71,"v":0.7},{"e":71,"v":0.32},{"e":71,"v":0.2},{"e":72,"v":0.38},{"e":72,"v":0.24},{"e":73,"v":0.45},{"e":73,"v":0.3},{"e":73,"v":0.18},{"e":74,"v":0.35},{"e":74,"v":0.22},{"e":75,"v":0.28},{"e":75,"v":0.16},{"e":76,"v":0.38},{"e":76,"v":0.25},{"e":77,"v":0.32},{"e":77,"v":0.2},{"e":78,"v":0.55},{"e":78,"v":0.3},{"e":78,"v":0.18},{"e":79,"v":0.38},{"e":79,"v":0.25},
{"e":15.5,"v":0.6},{"e":17.5,"v":0.5},{"e":18.5,"v":0.65},{"e":19.5,"v":0.5},{"e":20.5,"v":0.68},{"e":21.5,"v":0.42},{"e":22.5,"v":0.6},{"e":23.5,"v":0.38},{"e":24.5,"v":0.55},{"e":25.5,"v":0.5},{"e":26.5,"v":0.68},{"e":27.5,"v":0.4},{"e":28.5,"v":0.6},{"e":29.5,"v":0.5},{"e":30.5,"v":0.42},{"e":31.5,"v":0.55},{"e":32.5,"v":0.65},{"e":33.5,"v":0.42},{"e":34.5,"v":0.5},{"e":35.5,"v":0.38},
{"e":36.5,"v":0.45},{"e":36.5,"v":0.3},{"e":37.5,"v":0.35},{"e":37.5,"v":0.5},{"e":38.5,"v":0.42},{"e":38.5,"v":0.28},{"e":39.5,"v":0.55},{"e":39.5,"v":0.38},{"e":40.5,"v":0.42},{"e":40.5,"v":0.3},{"e":41.5,"v":0.5},{"e":41.5,"v":0.35},{"e":42.5,"v":0.45},{"e":42.5,"v":0.3},{"e":43.5,"v":0.55},{"e":43.5,"v":0.25},{"e":44.5,"v":0.42},{"e":44.5,"v":0.3},{"e":45.5,"v":0.5},{"e":45.5,"v":0.35},{"e":46.5,"v":0.45},{"e":46.5,"v":0.3},{"e":47.5,"v":0.4},{"e":47.5,"v":0.25},{"e":48.5,"v":0.5},{"e":48.5,"v":0.32},{"e":49.5,"v":0.42},{"e":49.5,"v":0.28},{"e":50.5,"v":0.52},{"e":50.5,"v":0.35},{"e":51.5,"v":0.45},{"e":51.5,"v":0.3},{"e":52.5,"v":0.48},{"e":52.5,"v":0.35},{"e":53.5,"v":0.58},{"e":53.5,"v":0.42},{"e":54.5,"v":0.4},{"e":54.5,"v":0.55},{"e":55.5,"v":0.45},{"e":55.5,"v":0.32},{"e":56.5,"v":0.5},{"e":56.5,"v":0.35},{"e":57.5,"v":0.42},{"e":57.5,"v":0.28},{"e":58.5,"v":0.55},{"e":58.5,"v":0.4},{"e":59.5,"v":0.35},{"e":59.5,"v":0.22},{"e":60.5,"v":0.45},{"e":60.5,"v":0.3},{"e":61.5,"v":0.32},{"e":61.5,"v":0.22},{"e":62.5,"v":0.42},{"e":62.5,"v":0.28},{"e":63.5,"v":0.32},{"e":63.5,"v":0.2},{"e":64.5,"v":0.28},{"e":64.5,"v":0.4},{"e":65.5,"v":0.3},{"e":65.5,"v":0.2},{"e":66.5,"v":0.38},{"e":66.5,"v":0.25},{"e":67.5,"v":0.28},{"e":67.5,"v":0.18},{"e":68.5,"v":0.32},{"e":68.5,"v":0.2},{"e":69.5,"v":0.35},{"e":69.5,"v":0.22},{"e":70.5,"v":0.3},{"e":70.5,"v":0.18},{"e":71.5,"v":0.38},{"e":71.5,"v":0.25},{"e":72.5,"v":0.3},{"e":72.5,"v":0.2},{"e":73.5,"v":0.36},{"e":73.5,"v":0.22},{"e":74.5,"v":0.3},{"e":74.5,"v":0.2},{"e":75.5,"v":0.35},{"e":75.5,"v":0.22},{"e":76.5,"v":0.3},{"e":76.5,"v":0.18},{"e":77.5,"v":0.35},{"e":77.5,"v":0.25},{"e":78.5,"v":0.38},{"e":78.5,"v":0.22},{"e":79,"v":0.3}],
"g": [{"e":13,"v":4.65},{"e":31,"v":4.7},{"e":34.3,"v":4.57},{"e":40,"v":3.8},{"e":10.8,"v":3.55},{"e":12,"v":3.4},{"e":13,"v":3.05},{"e":30,"v":3.33},{"e":35,"v":3.35},{"e":29,"v":2.9},{"e":34,"v":2.95},{"e":32,"v":2.88},{"e":22,"v":2.9},{"e":22,"v":2.7},{"e":23,"v":2.6},{"e":12.5,"v":2.25},{"e":14,"v":2.35},{"e":16,"v":2.52},{"e":19,"v":2.3},{"e":38.5,"v":2.3},{"e":39.5,"v":2.7},{"e":40,"v":2.6},{"e":44,"v":2.6},{"e":46.5,"v":2.57},{"e":53,"v":2.48},{"e":41,"v":2.35},{"e":56,"v":2.08},{"e":59,"v":1.98},{"e":62,"v":1.65},{"e":69,"v":1.5},{"e":75,"v":1.5},{"e":79,"v":1.75},{"e":80,"v":1.78},{"e":81.5,"v":1.82},{"e":11,"v":1.55},{"e":12,"v":1.28},{"e":11,"v":0.8},{"e":12,"v":0.6},{"e":12,"v":1.75},{"e":14,"v":1.95},{"e":25,"v":2.3},{"e":27,"v":2.45},{"e":28,"v":2.55},{"e":26,"v":2.2},{"e":29,"v":2.4},{"e":31,"v":2.6},{"e":30,"v":2.55},{"e":33,"v":2.3},{"e":36,"v":2.2},{"e":37,"v":2.35},{"e":35,"v":2.05},{"e":43,"v":2.0},{"e":45,"v":2.15},{"e":47,"v":2.1},{"e":50,"v":2.0},{"e":57,"v":1.85},{"e":49,"v":1.95},{"e":13,"v":1.0},{"e":14,"v":0.8},{"e":14,"v":1.3},{"e":15,"v":0.65},{"e":15,"v":1.1},{"e":15,"v":1.6},{"e":16,"v":0.9},{"e":16,"v":1.35},{"e":17,"v":0.7},{"e":17,"v":1.15},{"e":17,"v":1.75},{"e":18,"v":0.6},{"e":18,"v":1.0},{"e":18,"v":1.45},{"e":19,"v":0.85},{"e":19,"v":1.25},{"e":19,"v":1.9},{"e":20,"v":0.55},{"e":20,"v":0.95},{"e":20,"v":1.5},{"e":21,"v":0.75},{"e":21,"v":1.15},{"e":21,"v":1.8},{"e":22,"v":0.6},{"e":22,"v":1.0},{"e":22,"v":1.4},{"e":23,"v":0.85},{"e":23,"v":1.25},{"e":23,"v":1.95},{"e":24,"v":0.55},{"e":24,"v":0.95},{"e":24,"v":1.6},{"e":25,"v":0.7},{"e":25,"v":1.1},{"e":25,"v":1.45},{"e":26,"v":0.6},{"e":26,"v":0.9},{"e":26,"v":1.3},{"e":26,"v":1.85},{"e":27,"v":0.75},{"e":27,"v":1.15},{"e":27,"v":1.6},{"e":28,"v":0.55},{"e":28,"v":1.0},{"e":28,"v":1.4},{"e":28,"v":2.0},{"e":29,"v":0.7},{"e":29,"v":1.2},{"e":29,"v":1.7},{"e":30,"v":0.6},{"e":30,"v":0.95},{"e":30,"v":1.5},{"e":31,"v":0.8},{"e":31,"v":1.25},{"e":31,"v":1.9},{"e":32,"v":0.55},{"e":32,"v":1.05},{"e":32,"v":1.6},{"e":33,"v":0.7},{"e":33,"v":1.15},{"e":33,"v":1.75},{"e":34,"v":0.6},{"e":34,"v":0.95},{"e":34,"v":1.4},{"e":35,"v":0.75},{"e":35,"v":1.2},{"e":35,"v":1.65},{"e":36,"v":0.55},{"e":36,"v":0.9},{"e":36,"v":1.4},{"e":37,"v":0.7},{"e":37,"v":1.1},{"e":37,"v":1.8},{"e":38,"v":0.6},{"e":38,"v":1.0},{"e":38,"v":1.5},{"e":39,"v":0.8},{"e":39,"v":1.25},{"e":39,"v":1.9},{"e":40,"v":0.55},{"e":40,"v":0.9},{"e":40,"v":1.55},{"e":41,"v":0.7},{"e":41,"v":1.15},{"e":41,"v":1.7},{"e":42,"v":0.6},{"e":42,"v":0.95},{"e":42,"v":1.35},{"e":43,"v":0.8},{"e":43,"v":1.2},{"e":43,"v":1.6},{"e":44,"v":0.55},{"e":44,"v":0.9},{"e":44,"v":1.45},{"e":45,"v":0.7},{"e":45,"v":1.05},{"e":45,"v":1.75},{"e":46,"v":0.6},{"e":46,"v":0.95},{"e":46,"v":1.3},{"e":47,"v":0.75},{"e":47,"v":1.2},{"e":47,"v":1.65},{"e":48,"v":0.55},{"e":48,"v":0.9},{"e":48,"v":1.4},{"e":49,"v":0.7},{"e":49,"v":1.05},{"e":50,"v":0.6},{"e":50,"v":0.95},{"e":50,"v":1.5},{"e":51,"v":0.75},{"e":51,"v":1.15},{"e":52,"v":0.55},{"e":52,"v":0.9},{"e":52,"v":1.35},{"e":53,"v":0.7},{"e":53,"v":1.05},{"e":53,"v":1.6},{"e":54,"v":0.6},{"e":54,"v":0.85},{"e":54,"v":1.25},{"e":55,"v":0.7},{"e":55,"v":1.0},{"e":55,"v":1.55},{"e":56,"v":0.55},{"e":56,"v":0.9},{"e":56,"v":1.3},{"e":57,"v":0.65},{"e":57,"v":1.1},{"e":57,"v":1.7},{"e":58,"v":0.55},{"e":58,"v":0.85},{"e":58,"v":1.2},{"e":59,"v":0.7},{"e":59,"v":1.0},{"e":59,"v":1.5},{"e":60,"v":0.6},{"e":60,"v":0.9},{"e":60,"v":1.3},{"e":61,"v":0.55},{"e":61,"v":0.8},{"e":61,"v":1.15},{"e":62,"v":0.65},{"e":62,"v":0.95},{"e":63,"v":0.5},{"e":63,"v":0.75},{"e":63,"v":1.25},{"e":64,"v":0.6},{"e":64,"v":0.9},{"e":64,"v":1.6},{"e":65,"v":0.7},{"e":65,"v":1.05},{"e":66,"v":0.55},{"e":66,"v":0.85},{"e":66,"v":1.3},{"e":67,"v":0.65},{"e":67,"v":0.95},{"e":68,"v":0.55},{"e":68,"v":0.8},{"e":68,"v":1.1},{"e":69,"v":0.65},{"e":69,"v":0.9},{"e":70,"v":0.5},{"e":70,"v":0.75},{"e":70,"v":1.2},{"e":71,"v":0.6},{"e":71,"v":0.85},{"e":72,"v":0.55},{"e":72,"v":0.95},{"e":72,"v":1.3},{"e":73,"v":0.65},{"e":73,"v":0.85},{"e":74,"v":0.55},{"e":74,"v":0.75},{"e":74,"v":1.05},{"e":75,"v":0.6},{"e":75,"v":0.9},{"e":76,"v":0.55},{"e":76,"v":0.7},{"e":76,"v":1.1},{"e":77,"v":0.6},{"e":77,"v":0.85},{"e":78,"v":0.65},{"e":78,"v":1.0},{"e":78,"v":1.4},{"e":79,"v":0.6},{"e":79,"v":0.8},{"e":79,"v":1.2},{"e":80,"v":0.65},{"e":80,"v":0.9},{"e":80,"v":1.35},{"e":81,"v":0.6},{"e":81,"v":0.85},{"e":81,"v":1.05},{"e":81.5,"v":0.7},
{"e":13.5,"v":0.7},{"e":13.5,"v":1.2},{"e":14.5,"v":1.0},{"e":14.5,"v":1.5},{"e":15.5,"v":0.85},{"e":15.5,"v":1.35},{"e":16.5,"v":0.7},{"e":16.5,"v":1.1},{"e":17.5,"v":0.95},{"e":17.5,"v":1.5},{"e":18.5,"v":0.8},{"e":18.5,"v":1.2},{"e":19.5,"v":0.65},{"e":19.5,"v":1.05},{"e":20.5,"v":0.8},{"e":20.5,"v":1.25},{"e":21.5,"v":0.95},{"e":21.5,"v":1.55},{"e":22.5,"v":0.75},{"e":22.5,"v":1.2},{"e":23.5,"v":0.65},{"e":23.5,"v":1.05},{"e":24.5,"v":0.8},{"e":24.5,"v":1.3},{"e":25.5,"v":0.9},{"e":25.5,"v":1.7},{"e":26.5,"v":0.75},{"e":26.5,"v":1.1},{"e":27.5,"v":0.6},{"e":27.5,"v":0.95},{"e":28.5,"v":0.8},{"e":28.5,"v":1.2},{"e":29.5,"v":0.9},{"e":29.5,"v":1.45},{"e":30.5,"v":0.75},{"e":30.5,"v":1.1},{"e":31.5,"v":0.6},{"e":31.5,"v":1.05},{"e":32.5,"v":0.8},{"e":32.5,"v":1.3},{"e":33.5,"v":0.9},{"e":33.5,"v":1.45},{"e":34.5,"v":0.75},{"e":34.5,"v":1.15},{"e":35.5,"v":0.6},{"e":35.5,"v":1.0},{"e":36.5,"v":0.75},{"e":36.5,"v":1.2},{"e":37.5,"v":0.9},{"e":37.5,"v":1.45},{"e":38.5,"v":0.75},{"e":38.5,"v":1.15},{"e":39.5,"v":0.6},{"e":39.5,"v":1.05},{"e":40.5,"v":0.75},{"e":40.5,"v":1.25},{"e":41.5,"v":0.9},{"e":41.5,"v":1.4},{"e":42.5,"v":0.75},{"e":42.5,"v":1.1},{"e":43.5,"v":0.6},{"e":43.5,"v":1.0},{"e":44.5,"v":0.75},{"e":44.5,"v":1.2},{"e":45.5,"v":0.85},{"e":45.5,"v":1.35},{"e":46.5,"v":0.7},{"e":46.5,"v":1.1},{"e":47.5,"v":0.6},{"e":47.5,"v":0.95},{"e":48.5,"v":0.75},{"e":48.5,"v":1.2},{"e":49.5,"v":0.85},{"e":49.5,"v":1.3},{"e":50.5,"v":0.7},{"e":50.5,"v":1.05},{"e":51.5,"v":0.6},{"e":51.5,"v":0.95},{"e":52.5,"v":0.75},{"e":52.5,"v":1.15},{"e":53.5,"v":0.85},{"e":53.5,"v":1.3},{"e":54.5,"v":0.7},{"e":54.5,"v":1.0},{"e":55.5,"v":0.6},{"e":55.5,"v":0.85},{"e":56.5,"v":0.75},{"e":56.5,"v":1.1},{"e":57.5,"v":0.85},{"e":57.5,"v":1.2},{"e":58.5,"v":0.7},{"e":58.5,"v":0.95},{"e":59.5,"v":0.6},{"e":59.5,"v":0.85},{"e":60.5,"v":0.75},{"e":60.5,"v":1.05},{"e":61.5,"v":0.65},{"e":61.5,"v":0.95},{"e":62.5,"v":0.55},{"e":62.5,"v":0.8},{"e":63.5,"v":0.65},{"e":63.5,"v":0.95},{"e":64.5,"v":0.55},{"e":64.5,"v":0.75},{"e":65.5,"v":0.65},{"e":65.5,"v":0.9},{"e":66.5,"v":0.7},{"e":66.5,"v":1.0},{"e":67.5,"v":0.55},{"e":67.5,"v":0.8},{"e":68.5,"v":0.65},{"e":68.5,"v":0.95},{"e":69.5,"v":0.55},{"e":69.5,"v":0.75},{"e":70.5,"v":0.65},{"e":70.5,"v":0.9},{"e":71.5,"v":0.55},{"e":71.5,"v":0.75},{"e":72.5,"v":0.65},{"e":72.5,"v":0.85},{"e":73.5,"v":0.55},{"e":73.5,"v":0.75},{"e":74.5,"v":0.65},{"e":74.5,"v":0.9},{"e":75.5,"v":0.55},{"e":75.5,"v":0.75},{"e":76.5,"v":0.65},{"e":76.5,"v":0.85},{"e":77.5,"v":0.55},{"e":77.5,"v":0.75},{"e":78.5,"v":0.6},{"e":78.5,"v":0.85},{"e":79.5,"v":0.65},{"e":79.5,"v":0.95},{"e":80.5,"v":0.6},{"e":80.5,"v":0.8}],
"h": [{"e":20,"v":4.1},{"e":17,"v":3.75},{"e":18,"v":3.8},{"e":41,"v":3.55},{"e":42,"v":3.62},{"e":20,"v":3.27},{"e":14,"v":3.12},{"e":15,"v":3.1},{"e":16.3,"v":3.08},{"e":13,"v":3.05},{"e":19.5,"v":3.0},{"e":21,"v":2.92},{"e":22,"v":2.92},{"e":23.3,"v":3.15},{"e":19,"v":2.9},{"e":17.5,"v":2.78},{"e":36,"v":3.1},{"e":39,"v":2.75},{"e":40,"v":2.55},{"e":39.5,"v":2.4},{"e":45,"v":2.6},{"e":47.5,"v":2.78},{"e":22.5,"v":2.55},{"e":28,"v":2.5},{"e":27,"v":2.45},{"e":12,"v":2.38},{"e":20,"v":2.55},{"e":32.5,"v":2.5},{"e":42.5,"v":2.15},{"e":44,"v":2.05},{"e":57,"v":2.12},{"e":58,"v":1.73},{"e":63,"v":1.93},{"e":65,"v":2.05},{"e":65,"v":1.78},{"e":67.5,"v":1.65},{"e":69.5,"v":1.7},{"e":11,"v":1.85},{"e":10.8,"v":1.4},{"e":12,"v":1.35},{"e":11,"v":0.85},{"e":12,"v":0.75},{"e":13,"v":1.3},{"e":14,"v":1.6},{"e":15,"v":1.65},{"e":16,"v":1.7},{"e":17,"v":2.2},{"e":18,"v":2.05},{"e":21,"v":2.2},{"e":24,"v":2.1},{"e":26,"v":2.25},{"e":29,"v":2.1},{"e":30,"v":2.15},{"e":25,"v":2.4},{"e":37,"v":2.0},{"e":38,"v":1.95},{"e":43,"v":1.85},{"e":46,"v":1.7},{"e":50,"v":1.7},{"e":52,"v":1.55},{"e":54,"v":1.5},{"e":56,"v":1.35},{"e":59,"v":1.45},{"e":60,"v":1.4},{"e":62,"v":1.45},{"e":67,"v":1.35},{"e":14,"v":0.7},{"e":15,"v":0.65},{"e":16,"v":0.9},{"e":16,"v":1.3},{"e":17,"v":0.75},{"e":17,"v":1.1},{"e":17,"v":1.5},{"e":18,"v":0.6},{"e":18,"v":0.95},{"e":18,"v":1.35},{"e":18,"v":1.75},{"e":19,"v":0.8},{"e":19,"v":1.2},{"e":19,"v":1.6},{"e":20,"v":0.55},{"e":20,"v":0.95},{"e":20,"v":1.4},{"e":20,"v":1.85},{"e":21,"v":0.7},{"e":21,"v":1.1},{"e":21,"v":1.5},{"e":21,"v":1.95},{"e":22,"v":0.6},{"e":22,"v":0.9},{"e":22,"v":1.3},{"e":22,"v":1.7},{"e":23,"v":0.75},{"e":23,"v":1.15},{"e":23,"v":1.55},{"e":23,"v":1.95},{"e":24,"v":0.55},{"e":24,"v":0.95},{"e":24,"v":1.35},{"e":24,"v":1.75},{"e":25,"v":0.7},{"e":25,"v":1.1},{"e":25,"v":1.5},{"e":25,"v":1.9},{"e":26,"v":0.6},{"e":26,"v":0.9},{"e":26,"v":1.3},{"e":26,"v":1.7},{"e":27,"v":0.75},{"e":27,"v":1.15},{"e":27,"v":1.55},{"e":27,"v":1.95},{"e":28,"v":0.55},{"e":28,"v":0.95},{"e":28,"v":1.35},{"e":28,"v":1.8},{"e":29,"v":0.7},{"e":29,"v":1.1},{"e":29,"v":1.5},{"e":29,"v":1.9},{"e":30,"v":0.6},{"e":30,"v":0.9},{"e":30,"v":1.3},{"e":30,"v":1.7},{"e":31,"v":0.75},{"e":31,"v":1.15},{"e":31,"v":1.55},{"e":31,"v":1.95},{"e":32,"v":0.55},{"e":32,"v":0.95},{"e":32,"v":1.35},{"e":32,"v":1.8},{"e":33,"v":0.7},{"e":33,"v":1.1},{"e":33,"v":1.5},{"e":33,"v":1.9},{"e":34,"v":0.6},{"e":34,"v":0.9},{"e":34,"v":1.3},{"e":34,"v":1.7},{"e":35,"v":0.75},{"e":35,"v":1.15},{"e":35,"v":1.55},{"e":36,"v":0.55},{"e":36,"v":0.95},{"e":36,"v":1.35},{"e":36,"v":1.8},{"e":37,"v":0.7},{"e":37,"v":1.1},{"e":37,"v":1.5},{"e":38,"v":0.6},{"e":38,"v":0.9},{"e":38,"v":1.3},{"e":38,"v":1.7},{"e":39,"v":0.75},{"e":39,"v":1.15},{"e":39,"v":1.55},{"e":40,"v":0.55},{"e":40,"v":0.95},{"e":40,"v":1.4},{"e":40,"v":1.85},{"e":41,"v":0.7},{"e":41,"v":1.05},{"e":41,"v":1.45},{"e":42,"v":0.5},{"e":42,"v":0.85},{"e":42,"v":1.2},{"e":43,"v":0.65},{"e":43,"v":1.0},{"e":44,"v":0.45},{"e":44,"v":0.8},{"e":44,"v":1.3},{"e":45,"v":0.6},{"e":45,"v":0.95},{"e":46,"v":0.5},{"e":46,"v":0.75},{"e":46,"v":1.15},{"e":47,"v":0.6},{"e":47,"v":0.9},{"e":48,"v":0.45},{"e":48,"v":0.7},{"e":48,"v":1.05},{"e":49,"v":0.55},{"e":49,"v":0.85},{"e":50,"v":0.45},{"e":50,"v":0.7},{"e":50,"v":1.2},{"e":51,"v":0.6},{"e":51,"v":0.9},{"e":52,"v":0.5},{"e":52,"v":0.75},{"e":52,"v":1.1},{"e":53,"v":0.6},{"e":53,"v":0.85},{"e":54,"v":0.45},{"e":54,"v":0.7},{"e":54,"v":1.0},{"e":55,"v":0.55},{"e":55,"v":0.8},{"e":56,"v":0.45},{"e":56,"v":0.65},{"e":56,"v":1.1},{"e":57,"v":0.55},{"e":57,"v":0.85},{"e":58,"v":0.45},{"e":58,"v":0.7},{"e":58,"v":1.0},{"e":59,"v":0.55},{"e":59,"v":0.8},{"e":60,"v":0.45},{"e":60,"v":0.65},{"e":60,"v":0.95},{"e":61,"v":0.55},{"e":61,"v":0.8},{"e":62,"v":0.45},{"e":62,"v":0.7},{"e":62,"v":1.0},{"e":63,"v":0.55},{"e":63,"v":0.8},{"e":64,"v":0.45},{"e":64,"v":0.65},{"e":64,"v":0.9},{"e":65,"v":0.5},{"e":65,"v":0.75},{"e":66,"v":0.45},{"e":66,"v":0.65},{"e":66,"v":0.95},{"e":67,"v":0.5},{"e":67,"v":0.75},{"e":68,"v":0.45},{"e":68,"v":0.6},{"e":68,"v":0.85},{"e":69,"v":0.5},{"e":69,"v":0.7},{"e":70,"v":0.45},{"e":70,"v":0.6},{"e":70,"v":0.9},{"e":71,"v":0.5},{"e":71,"v":0.7},{"e":72,"v":0.45},{"e":72,"v":0.65},{"e":72,"v":1.0},{"e":73,"v":0.55},{"e":73,"v":0.75},{"e":74,"v":0.45},{"e":74,"v":0.6},{"e":74,"v":0.85},{"e":75,"v":0.5},{"e":75,"v":0.7},{"e":76,"v":0.45},{"e":76,"v":0.65},{"e":76,"v":0.9},{"e":77,"v":0.55},{"e":77,"v":0.75},{"e":78,"v":0.5},{"e":78,"v":0.85},{"e":78,"v":1.15},{"e":79,"v":0.55},{"e":79,"v":0.7},{"e":79,"v":1.2},{"e":80,"v":0.6},{"e":80,"v":0.9},{"e":80,"v":1.3},{"e":81,"v":0.55},{"e":81,"v":0.8},{"e":81,"v":1.05},{"e":81.5,"v":1.38},{"e":81.5,"v":0.7},
{"e":16.5,"v":0.7},{"e":16.5,"v":1.1},{"e":16.5,"v":1.5},{"e":17.5,"v":0.9},{"e":17.5,"v":1.3},{"e":17.5,"v":1.7},{"e":18.5,"v":0.75},{"e":18.5,"v":1.15},{"e":18.5,"v":1.55},{"e":19.5,"v":0.6},{"e":19.5,"v":1.0},{"e":19.5,"v":1.4},{"e":19.5,"v":1.8},{"e":20.5,"v":0.75},{"e":20.5,"v":1.15},{"e":20.5,"v":1.6},{"e":21.5,"v":0.9},{"e":21.5,"v":1.3},{"e":21.5,"v":1.75},{"e":22.5,"v":0.75},{"e":22.5,"v":1.1},{"e":22.5,"v":1.5},{"e":22.5,"v":1.9},{"e":23.5,"v":0.6},{"e":23.5,"v":0.95},{"e":23.5,"v":1.35},{"e":23.5,"v":1.75},{"e":24.5,"v":0.8},{"e":24.5,"v":1.15},{"e":24.5,"v":1.55},{"e":25.5,"v":0.6},{"e":25.5,"v":0.9},{"e":25.5,"v":1.3},{"e":25.5,"v":1.7},{"e":26.5,"v":0.75},{"e":26.5,"v":1.1},{"e":26.5,"v":1.5},{"e":26.5,"v":1.9},{"e":27.5,"v":0.6},{"e":27.5,"v":0.95},{"e":27.5,"v":1.35},{"e":27.5,"v":1.75},{"e":28.5,"v":0.75},{"e":28.5,"v":1.15},{"e":28.5,"v":1.55},{"e":29.5,"v":0.6},{"e":29.5,"v":0.9},{"e":29.5,"v":1.3},{"e":29.5,"v":1.7},{"e":30.5,"v":0.75},{"e":30.5,"v":1.1},{"e":30.5,"v":1.5},{"e":30.5,"v":1.9},{"e":31.5,"v":0.6},{"e":31.5,"v":0.95},{"e":31.5,"v":1.35},{"e":31.5,"v":1.75},{"e":32.5,"v":0.75},{"e":32.5,"v":1.15},{"e":32.5,"v":1.55},{"e":33.5,"v":0.6},{"e":33.5,"v":0.9},{"e":33.5,"v":1.3},{"e":33.5,"v":1.7},{"e":34.5,"v":0.75},{"e":34.5,"v":1.1},{"e":34.5,"v":1.5},{"e":34.5,"v":1.9},{"e":35.5,"v":0.6},{"e":35.5,"v":0.95},{"e":35.5,"v":1.35},{"e":35.5,"v":1.75},{"e":36.5,"v":0.75},{"e":36.5,"v":1.15},{"e":36.5,"v":1.55},{"e":37.5,"v":0.6},{"e":37.5,"v":0.9},{"e":37.5,"v":1.3},{"e":37.5,"v":1.75},{"e":38.5,"v":0.75},{"e":38.5,"v":1.1},{"e":38.5,"v":1.5},{"e":39.5,"v":0.6},{"e":39.5,"v":0.95},{"e":39.5,"v":1.35},{"e":39.5,"v":1.8},
{"e":40.5,"v":0.6},{"e":40.5,"v":0.85},{"e":40.5,"v":1.15},{"e":41.5,"v":0.5},{"e":41.5,"v":0.8},{"e":42.5,"v":0.65},{"e":42.5,"v":1.0},{"e":43.5,"v":0.5},{"e":43.5,"v":0.8},{"e":44.5,"v":0.6},{"e":44.5,"v":0.95},{"e":45.5,"v":0.5},{"e":45.5,"v":0.75},{"e":46.5,"v":0.6},{"e":46.5,"v":0.9},{"e":47.5,"v":0.5},{"e":47.5,"v":0.75},{"e":48.5,"v":0.6},{"e":48.5,"v":0.9},{"e":49.5,"v":0.5},{"e":49.5,"v":0.7},{"e":50.5,"v":0.6},{"e":50.5,"v":0.9},{"e":51.5,"v":0.5},{"e":51.5,"v":0.7},{"e":52.5,"v":0.6},{"e":52.5,"v":0.9},{"e":53.5,"v":0.5},{"e":53.5,"v":0.7},{"e":54.5,"v":0.6},{"e":54.5,"v":0.85},{"e":55.5,"v":0.5},{"e":55.5,"v":0.7},{"e":56.5,"v":0.55},{"e":56.5,"v":0.85},{"e":57.5,"v":0.5},{"e":57.5,"v":0.7},{"e":58.5,"v":0.55},{"e":58.5,"v":0.85},{"e":59.5,"v":0.5},{"e":59.5,"v":0.7},{"e":60.5,"v":0.55},{"e":60.5,"v":0.85},{"e":61.5,"v":0.5},{"e":61.5,"v":0.65},{"e":62.5,"v":0.55},{"e":62.5,"v":0.8},{"e":63.5,"v":0.5},{"e":63.5,"v":0.65},{"e":64.5,"v":0.55},{"e":64.5,"v":0.8},{"e":65.5,"v":0.5},{"e":65.5,"v":0.65},{"e":66.5,"v":0.55},{"e":66.5,"v":0.8},{"e":67.5,"v":0.5},{"e":67.5,"v":0.65},{"e":68.5,"v":0.55},{"e":68.5,"v":0.75},{"e":69.5,"v":0.5},{"e":69.5,"v":0.65},{"e":70.5,"v":0.55},{"e":70.5,"v":0.75},{"e":71.5,"v":0.5},{"e":71.5,"v":0.65},{"e":72.5,"v":0.55},{"e":72.5,"v":0.8},{"e":73.5,"v":0.5},{"e":73.5,"v":0.65},{"e":74.5,"v":0.55},{"e":74.5,"v":0.75},{"e":75.5,"v":0.5},{"e":75.5,"v":0.65},{"e":76.5,"v":0.55},{"e":76.5,"v":0.8},{"e":77.5,"v":0.5},{"e":77.5,"v":0.65},{"e":78.5,"v":0.6},{"e":78.5,"v":0.75},{"e":79.5,"v":0.55},{"e":79.5,"v":0.9},{"e":80.5,"v":0.65},{"e":80.5,"v":1.0}]
}
}
